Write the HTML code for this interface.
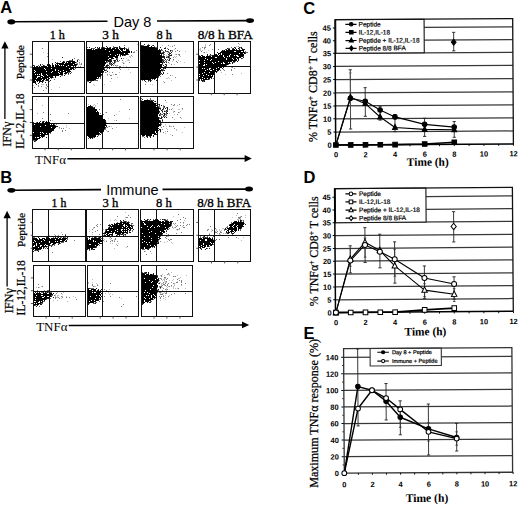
<!DOCTYPE html>
<html><head><meta charset="utf-8"><style>
html,body{margin:0;padding:0;background:#fff;overflow:hidden;width:520px;height:506px;}
svg{display:block;}
</style></head><body>
<svg width="520" height="506" viewBox="0 0 520 506">
<rect width="520" height="506" fill="#fff"/>
<rect x="32.5" y="41.5" width="52.0" height="52.0" fill="none" stroke="#111" stroke-width="1.0"/>
<line x1="48.5" y1="41.5" x2="48.5" y2="93.5" stroke="#111" stroke-width="1"/>
<line x1="32.5" y1="67.5" x2="84.5" y2="67.5" stroke="#111" stroke-width="1"/>
<path d="M29.8 54.2H32.0M29.8 67.1H32.0M29.8 80.0H32.0" stroke="#444" stroke-width="0.9" fill="none"/>
<rect x="86.5" y="41.5" width="52.0" height="52.0" fill="none" stroke="#111" stroke-width="1.0"/>
<line x1="102.5" y1="41.5" x2="102.5" y2="93.5" stroke="#111" stroke-width="1"/>
<line x1="86.5" y1="67.5" x2="138.5" y2="67.5" stroke="#111" stroke-width="1"/>
<path d="" stroke="#444" stroke-width="0.9" fill="none"/>
<rect x="140.5" y="41.5" width="53.0" height="52.0" fill="none" stroke="#111" stroke-width="1.0"/>
<line x1="157.5" y1="41.5" x2="157.5" y2="93.5" stroke="#111" stroke-width="1"/>
<line x1="140.5" y1="67.5" x2="193.5" y2="67.5" stroke="#111" stroke-width="1"/>
<path d="" stroke="#444" stroke-width="0.9" fill="none"/>
<rect x="198.5" y="41.5" width="52.0" height="52.0" fill="none" stroke="#111" stroke-width="1.0"/>
<line x1="214.5" y1="41.5" x2="214.5" y2="93.5" stroke="#111" stroke-width="1"/>
<line x1="198.5" y1="66.5" x2="250.5" y2="66.5" stroke="#111" stroke-width="1"/>
<path d="M196.2 54.2H198.4M196.2 67.1H198.4M196.2 80.0H198.4M211.3 93.0V95.2M224.2 93.0V95.2M237.1 93.0V95.2" stroke="#444" stroke-width="0.9" fill="none"/>
<rect x="32.5" y="96.5" width="52.0" height="52.0" fill="none" stroke="#111" stroke-width="1.0"/>
<line x1="48.5" y1="96.5" x2="48.5" y2="148.5" stroke="#111" stroke-width="1"/>
<line x1="32.5" y1="123.5" x2="84.5" y2="123.5" stroke="#111" stroke-width="1"/>
<path d="M29.8 109.6H32.0M29.8 122.5H32.0M29.8 135.3H32.0M45.1 148.2V150.4M58.2 148.2V150.4M71.3 148.2V150.4" stroke="#444" stroke-width="0.9" fill="none"/>
<rect x="86.5" y="96.5" width="52.0" height="52.0" fill="none" stroke="#111" stroke-width="1.0"/>
<line x1="102.5" y1="96.5" x2="102.5" y2="148.5" stroke="#111" stroke-width="1"/>
<line x1="86.5" y1="123.5" x2="138.5" y2="123.5" stroke="#111" stroke-width="1"/>
<path d="M99.7 148.2V150.4M112.6 148.2V150.4M125.5 148.2V150.4" stroke="#444" stroke-width="0.9" fill="none"/>
<rect x="140.5" y="96.5" width="53.0" height="52.0" fill="none" stroke="#111" stroke-width="1.0"/>
<line x1="157.5" y1="96.5" x2="157.5" y2="148.5" stroke="#111" stroke-width="1"/>
<line x1="140.5" y1="122.5" x2="193.5" y2="122.5" stroke="#111" stroke-width="1"/>
<path d="M154.0 148.2V150.4M167.1 148.2V150.4M180.2 148.2V150.4" stroke="#444" stroke-width="0.9" fill="none"/>
<rect x="32.5" y="209.5" width="53.0" height="52.0" fill="none" stroke="#111" stroke-width="1.0"/>
<line x1="48.5" y1="209.5" x2="48.5" y2="261.5" stroke="#111" stroke-width="1"/>
<line x1="32.5" y1="236.5" x2="85.5" y2="236.5" stroke="#111" stroke-width="1"/>
<path d="M30.7 222.4H32.9M30.7 235.3H32.9M30.7 248.3H32.9" stroke="#444" stroke-width="0.9" fill="none"/>
<rect x="86.5" y="209.5" width="52.0" height="52.0" fill="none" stroke="#111" stroke-width="1.0"/>
<line x1="102.5" y1="209.5" x2="102.5" y2="261.5" stroke="#111" stroke-width="1"/>
<line x1="86.5" y1="236.5" x2="138.5" y2="236.5" stroke="#111" stroke-width="1"/>
<path d="" stroke="#444" stroke-width="0.9" fill="none"/>
<rect x="140.5" y="209.5" width="53.0" height="52.0" fill="none" stroke="#111" stroke-width="1.0"/>
<line x1="156.5" y1="209.5" x2="156.5" y2="261.5" stroke="#111" stroke-width="1"/>
<line x1="140.5" y1="235.5" x2="193.5" y2="235.5" stroke="#111" stroke-width="1"/>
<path d="" stroke="#444" stroke-width="0.9" fill="none"/>
<rect x="198.5" y="209.5" width="52.0" height="52.0" fill="none" stroke="#111" stroke-width="1.0"/>
<line x1="214.5" y1="209.5" x2="214.5" y2="261.5" stroke="#111" stroke-width="1"/>
<line x1="198.5" y1="235.5" x2="250.5" y2="235.5" stroke="#111" stroke-width="1"/>
<path d="M196.2 222.4H198.4M196.2 235.3H198.4M196.2 248.3H198.4M211.5 261.2V263.4M224.7 261.2V263.4M237.8 261.2V263.4" stroke="#444" stroke-width="0.9" fill="none"/>
<rect x="33.5" y="265.5" width="52.0" height="51.0" fill="none" stroke="#111" stroke-width="1.0"/>
<line x1="49.5" y1="265.5" x2="49.5" y2="316.5" stroke="#111" stroke-width="1"/>
<line x1="33.5" y1="291.5" x2="85.5" y2="291.5" stroke="#111" stroke-width="1"/>
<path d="M30.9 277.9H33.1M30.9 290.7H33.1M30.9 303.5H33.1M46.1 316.4V318.6M59.2 316.4V318.6M72.2 316.4V318.6" stroke="#444" stroke-width="0.9" fill="none"/>
<rect x="87.5" y="265.5" width="51.0" height="51.0" fill="none" stroke="#111" stroke-width="1.0"/>
<line x1="102.5" y1="265.5" x2="102.5" y2="316.5" stroke="#111" stroke-width="1"/>
<line x1="87.5" y1="291.5" x2="138.5" y2="291.5" stroke="#111" stroke-width="1"/>
<path d="M100.2 316.4V318.6M113.1 316.4V318.6M126.0 316.4V318.6" stroke="#444" stroke-width="0.9" fill="none"/>
<rect x="141.5" y="265.5" width="51.0" height="51.0" fill="none" stroke="#111" stroke-width="1.0"/>
<line x1="156.5" y1="265.5" x2="156.5" y2="316.5" stroke="#111" stroke-width="1"/>
<line x1="141.5" y1="291.5" x2="192.5" y2="291.5" stroke="#111" stroke-width="1"/>
<path d="M154.0 316.4V318.6M166.9 316.4V318.6M179.9 316.4V318.6" stroke="#444" stroke-width="0.9" fill="none"/>
<path d="M43 52.5h1M47 53.5h1M52 59.5h1M77 59.5h1M79 60.5h1M76 63.5h1M79 63.5h1M79 64.5h2M78 66.5h1M41 84.5h3M33 85.5h1M45 87.5h2M59 87.5h1M51 89.5h1" stroke="#000" stroke-opacity="0.25" stroke-width="1" fill="none" shape-rendering="crispEdges"/>
<path d="M42 48.5h1M47 56.5h1M74 58.5h1M78 59.5h1M76 62.5h1M79 62.5h1M77 63.5h1M81 63.5h1M81 64.5h1M80 66.5h1M46 84.5h1M38 85.5h1M46 85.5h1M38 86.5h1M41 86.5h1M47 86.5h1M34 87.5h1M46 88.5h1M43 90.5h1" stroke="#000" stroke-opacity="0.5" stroke-width="1" fill="none" shape-rendering="crispEdges"/>
<path d="M69 60.5h3M60 61.5h1M64 61.5h1M66 61.5h1M57 62.5h1M42 64.5h1M77 64.5h1M34 65.5h1M38 65.5h1M44 65.5h1M76 65.5h1M77 67.5h1M75 68.5h1M74 69.5h1M68 72.5h2M71 72.5h1M65 74.5h1M68 74.5h1M61 75.5h2M53 77.5h1M51 78.5h1M54 79.5h1M45 80.5h1M43 81.5h1M49 81.5h1" stroke="#000" stroke-opacity="0.6" stroke-width="1" fill="none" shape-rendering="crispEdges"/>
<path d="M62 57.5h1M72 59.5h1M72 60.5h1M77 60.5h1M63 61.5h1M77 61.5h1M55 62.5h1M52 63.5h1M56 63.5h1M40 64.5h1M47 64.5h1M49 64.5h1M52 64.5h1M33 65.5h1M40 65.5h1M43 65.5h1M76 67.5h1M79 67.5h1M73 69.5h1M66 73.5h1M68 73.5h1M70 73.5h1M64 75.5h1M60 76.5h1M55 77.5h1M49 78.5h1M47 79.5h2M46 80.5h2M50 80.5h1M42 81.5h1M39 82.5h1M42 82.5h1M45 82.5h1M35 83.5h1M38 83.5h1M36 84.5h1" stroke="#000" stroke-opacity="0.9" stroke-width="1" fill="none" shape-rendering="crispEdges"/>
<path d="M67 61.5h8M62 62.5h3M66 62.5h1M68 62.5h3M72 62.5h4M57 63.5h7M65 63.5h10M55 64.5h1M57 64.5h1M59 64.5h14M74 64.5h3M47 65.5h4M52 65.5h2M55 65.5h4M60 65.5h1M62 65.5h1M64 65.5h4M69 65.5h7M34 66.5h1M36 66.5h2M39 66.5h1M41 66.5h6M48 66.5h3M52 66.5h2M55 66.5h11M67 66.5h4M73 66.5h1M75 66.5h1M33 67.5h3M37 67.5h4M44 67.5h30M33 68.5h11M45 68.5h6M52 68.5h17M70 68.5h4M33 69.5h12M46 69.5h2M49 69.5h6M56 69.5h16M33 70.5h1M35 70.5h20M56 70.5h2M59 70.5h4M64 70.5h6M33 71.5h2M36 71.5h10M47 71.5h5M53 71.5h7M61 71.5h5M67 71.5h4M33 72.5h1M35 72.5h16M52 72.5h6M59 72.5h4M65 72.5h3M33 73.5h8M42 73.5h17M60 73.5h3M64 73.5h2M33 74.5h2M36 74.5h1M38 74.5h1M40 74.5h1M42 74.5h4M47 74.5h16M33 75.5h8M43 75.5h4M48 75.5h11M33 76.5h4M40 76.5h3M44 76.5h9M55 76.5h1M33 77.5h4M38 77.5h3M42 77.5h7M50 77.5h3M33 78.5h3M37 78.5h10M48 78.5h1M33 79.5h9M43 79.5h2M46 79.5h1M33 80.5h2M36 80.5h5M42 80.5h2M33 81.5h3M37 81.5h1M39 81.5h3M33 82.5h3" stroke="#000" stroke-opacity="1.0" stroke-width="1" fill="none" shape-rendering="crispEdges"/>
<path d="M137 44.5h1M128 47.5h1M129 50.5h1M134 51.5h1M129 56.5h2M132 56.5h1M130 57.5h1M126 58.5h1M128 59.5h1M127 60.5h3M116 61.5h1M125 61.5h1M122 62.5h2M124 63.5h1M114 64.5h1M116 65.5h1M123 65.5h1M116 66.5h1M126 66.5h1M128 69.5h1M106 72.5h1M109 72.5h1M119 72.5h1M130 72.5h1M109 74.5h1M113 74.5h1M107 75.5h1M117 77.5h1M110 81.5h1M93 84.5h1M104 84.5h1M94 85.5h1" stroke="#000" stroke-opacity="0.25" stroke-width="1" fill="none" shape-rendering="crispEdges"/>
<path d="M136 50.5h1M133 52.5h2M131 55.5h1M123 58.5h1M122 60.5h1M118 61.5h1M115 62.5h1M129 62.5h1M114 63.5h1M123 63.5h1M115 65.5h1M117 65.5h1M119 66.5h2M115 67.5h1M119 68.5h1M106 69.5h1M120 69.5h1M112 72.5h1M107 74.5h1M115 74.5h2M110 75.5h2M111 78.5h1" stroke="#000" stroke-opacity="0.5" stroke-width="1" fill="none" shape-rendering="crispEdges"/>
<path d="M124 45.5h1M113 46.5h1M87 47.5h1M101 47.5h1M104 47.5h1M109 47.5h1M113 47.5h1M120 47.5h1M92 48.5h3M97 48.5h1M125 48.5h2M128 48.5h1M128 54.5h1M123 55.5h1M125 55.5h1M120 56.5h1M116 58.5h2M111 59.5h1M117 59.5h1M113 60.5h1M119 60.5h1M107 61.5h1M115 61.5h1M117 61.5h1M106 62.5h2M109 62.5h1M112 62.5h1M110 63.5h1M107 64.5h1M109 64.5h3M113 65.5h1M105 66.5h1M107 66.5h1M109 66.5h1M104 67.5h1M106 67.5h1M104 68.5h1M107 68.5h1M106 70.5h1M103 72.5h1M105 72.5h1M101 75.5h1M100 77.5h1M98 78.5h1M100 78.5h1M94 80.5h4M87 81.5h2M90 81.5h2" stroke="#000" stroke-opacity="0.6" stroke-width="1" fill="none" shape-rendering="crispEdges"/>
<path d="M106 46.5h1M119 46.5h1M89 47.5h1M95 47.5h1M97 47.5h1M99 47.5h1M103 47.5h1M107 47.5h1M110 47.5h1M114 47.5h4M119 47.5h1M124 47.5h1M91 48.5h1M98 48.5h2M101 48.5h1M106 48.5h1M124 48.5h1M127 49.5h2M131 51.5h1M131 52.5h1M127 54.5h1M124 55.5h1M121 58.5h1M116 59.5h1M109 60.5h3M114 60.5h2M117 60.5h1M108 61.5h4M114 61.5h1M110 62.5h1M114 62.5h1M109 63.5h1M111 63.5h1M113 63.5h1M112 64.5h1M106 65.5h3M111 65.5h1M106 66.5h1M107 67.5h2M109 68.5h1M104 69.5h1M104 70.5h2M107 71.5h1M102 73.5h1M100 76.5h1M89 82.5h2" stroke="#000" stroke-opacity="0.9" stroke-width="1" fill="none" shape-rendering="crispEdges"/>
<path d="M102 48.5h4M107 48.5h4M112 48.5h3M116 48.5h2M119 48.5h5M87 49.5h5M93 49.5h1M95 49.5h10M106 49.5h13M120 49.5h3M124 49.5h1M126 49.5h1M87 50.5h26M114 50.5h6M121 50.5h2M126 50.5h3M87 51.5h22M110 51.5h11M122 51.5h8M87 52.5h43M87 53.5h37M125 53.5h3M87 54.5h23M111 54.5h6M118 54.5h1M120 54.5h7M87 55.5h28M116 55.5h3M120 55.5h1M122 55.5h1M87 56.5h21M109 56.5h9M87 57.5h26M115 57.5h3M87 58.5h22M111 58.5h3M87 59.5h21M109 59.5h2M87 60.5h22M87 61.5h18M106 61.5h1M87 62.5h19M87 63.5h19M87 64.5h18M87 65.5h18M87 66.5h17M87 67.5h17M87 68.5h17M87 69.5h17M87 70.5h16M87 71.5h17M87 72.5h16M87 73.5h14M87 74.5h15M87 75.5h14M87 76.5h13M87 77.5h10M98 77.5h1M87 78.5h11M87 79.5h9M87 80.5h7" stroke="#000" stroke-opacity="1.0" stroke-width="1" fill="none" shape-rendering="crispEdges"/>
<path d="M162 45.5h1M170 46.5h1M174 49.5h1M185 51.5h1M161 52.5h1M167 53.5h1M175 54.5h1M166 55.5h1M168 55.5h1M166 56.5h1M174 56.5h1M176 56.5h1M180 56.5h1M175 57.5h1M168 58.5h1M173 60.5h1M178 60.5h1M172 61.5h1M180 61.5h1M184 62.5h1M169 63.5h1M174 64.5h1M172 75.5h1M168 77.5h1M166 78.5h2M169 78.5h1M171 80.5h1M163 81.5h1M146 82.5h1M150 84.5h1M152 84.5h1" stroke="#000" stroke-opacity="0.25" stroke-width="1" fill="none" shape-rendering="crispEdges"/>
<path d="M168 45.5h1M174 45.5h1M172 46.5h1M165 47.5h1M167 48.5h1M175 48.5h1M171 50.5h2M177 50.5h1M168 51.5h1M172 51.5h1M175 51.5h1M179 51.5h1M169 52.5h1M163 54.5h2M176 54.5h1M178 54.5h2M179 55.5h1M167 56.5h1M173 57.5h1M166 61.5h1M176 61.5h1M177 62.5h1M171 64.5h1M162 71.5h1M167 73.5h1M170 75.5h1M160 76.5h1M175 77.5h1M164 82.5h1M145 84.5h1" stroke="#000" stroke-opacity="0.5" stroke-width="1" fill="none" shape-rendering="crispEdges"/>
<path d="M148 44.5h1M142 45.5h2M152 45.5h1M154 46.5h1M157 46.5h1M155 47.5h2M161 50.5h2M163 51.5h1M165 51.5h2M170 51.5h1M162 52.5h1M164 52.5h1M168 52.5h1M169 54.5h1M171 54.5h1M163 55.5h1M169 56.5h1M167 57.5h1M169 57.5h1M169 58.5h1M163 59.5h1M167 59.5h1M173 59.5h1M163 60.5h2M166 60.5h1M168 60.5h1M162 61.5h1M165 61.5h1M163 62.5h1M168 62.5h1M162 64.5h1M166 64.5h1M164 66.5h1M166 66.5h1M163 67.5h3M164 68.5h1M162 69.5h2M163 70.5h1M160 73.5h1M158 77.5h1M152 79.5h1M142 80.5h1M149 80.5h1M151 80.5h1M148 81.5h1" stroke="#000" stroke-opacity="0.6" stroke-width="1" fill="none" shape-rendering="crispEdges"/>
<path d="M144 44.5h1M141 45.5h1M147 45.5h3M153 45.5h1M160 47.5h1M164 48.5h2M159 49.5h1M161 49.5h1M168 49.5h1M160 50.5h1M165 50.5h1M170 50.5h1M167 51.5h1M163 52.5h1M171 52.5h1M161 53.5h3M169 53.5h2M168 54.5h1M169 55.5h3M162 56.5h3M168 56.5h1M162 57.5h3M166 57.5h1M168 57.5h1M164 58.5h1M170 58.5h1M162 59.5h1M165 59.5h1M169 59.5h1M162 60.5h1M169 60.5h1M163 61.5h1M162 62.5h1M164 62.5h1M166 62.5h1M162 63.5h1M165 64.5h1M163 65.5h1M166 65.5h1M165 66.5h1M162 67.5h1M163 68.5h1M165 68.5h1M161 70.5h2M164 70.5h1M163 72.5h1M161 73.5h1M163 73.5h1M160 74.5h1M162 74.5h1M159 75.5h1M158 76.5h1M157 77.5h1M154 79.5h1M144 80.5h1M148 80.5h1M150 80.5h1M156 80.5h1M145 81.5h1M150 81.5h1" stroke="#000" stroke-opacity="0.9" stroke-width="1" fill="none" shape-rendering="crispEdges"/>
<path d="M141 46.5h8M151 46.5h1M141 47.5h14M141 48.5h17M141 49.5h16M141 50.5h19M141 51.5h20M141 52.5h20M141 53.5h20M141 54.5h19M161 54.5h1M141 55.5h21M141 56.5h21M141 57.5h21M141 58.5h21M141 59.5h21M141 60.5h21M141 61.5h21M141 62.5h21M141 63.5h19M141 64.5h21M141 65.5h21M141 66.5h21M141 67.5h21M141 68.5h20M141 69.5h19M161 69.5h1M141 70.5h20M141 71.5h20M141 72.5h20M141 73.5h19M141 74.5h19M141 75.5h16M158 75.5h1M141 76.5h16M141 77.5h16M141 78.5h15M141 79.5h10" stroke="#000" stroke-opacity="1.0" stroke-width="1" fill="none" shape-rendering="crispEdges"/>
<path d="M205 44.5h1M239 44.5h1M205 45.5h1M205 46.5h1M236 46.5h1M200 48.5h1M199 49.5h2M204 49.5h1M200 50.5h1M202 50.5h1M208 50.5h1M203 52.5h1M206 52.5h1M231 67.5h1M221 72.5h1M241 73.5h1M225 74.5h1" stroke="#000" stroke-opacity="0.25" stroke-width="1" fill="none" shape-rendering="crispEdges"/>
<path d="M238 43.5h1M210 44.5h1M209 45.5h1M238 46.5h1M202 47.5h1M204 47.5h2M204 48.5h1M212 49.5h1M201 51.5h1M204 52.5h1M240 66.5h1M232 67.5h1M234 68.5h1M231 69.5h1M224 70.5h1M231 70.5h1M232 74.5h1" stroke="#000" stroke-opacity="0.5" stroke-width="1" fill="none" shape-rendering="crispEdges"/>
<path d="M231 47.5h1M235 47.5h1M240 47.5h1M228 48.5h2M232 48.5h1M239 48.5h1M242 48.5h1M218 49.5h1M225 49.5h1M223 50.5h1M245 51.5h1M245 52.5h3M199 55.5h1M209 55.5h3M243 56.5h1M242 58.5h1M235 61.5h1M233 62.5h2M230 63.5h1M228 64.5h1M226 65.5h1M224 66.5h1M223 69.5h1M220 70.5h1M217 71.5h1M213 78.5h1M209 79.5h1M203 81.5h1" stroke="#000" stroke-opacity="0.6" stroke-width="1" fill="none" shape-rendering="crispEdges"/>
<path d="M234 47.5h1M239 47.5h1M241 47.5h1M227 48.5h1M233 48.5h1M241 48.5h1M226 49.5h1M243 49.5h2M222 50.5h1M221 51.5h1M217 52.5h1M245 53.5h1M207 54.5h1M210 54.5h1M214 54.5h2M201 55.5h2M207 55.5h1M212 55.5h2M243 57.5h1M241 58.5h1M238 60.5h1M237 61.5h1M232 63.5h1M225 66.5h1M223 67.5h1M222 68.5h1M218 70.5h1M216 72.5h1M214 74.5h1M211 78.5h1M207 79.5h2M199 80.5h1M201 80.5h4M202 81.5h1M204 81.5h1" stroke="#000" stroke-opacity="0.9" stroke-width="1" fill="none" shape-rendering="crispEdges"/>
<path d="M235 48.5h1M238 48.5h1M228 49.5h2M232 49.5h3M236 49.5h1M239 49.5h1M242 49.5h1M224 50.5h1M226 50.5h18M222 51.5h12M236 51.5h5M243 51.5h1M220 52.5h25M218 53.5h3M222 53.5h17M240 53.5h3M244 53.5h1M216 54.5h1M218 54.5h1M220 54.5h1M222 54.5h8M231 54.5h13M214 55.5h4M219 55.5h4M224 55.5h5M230 55.5h4M235 55.5h1M238 55.5h6M199 56.5h2M202 56.5h3M206 56.5h5M212 56.5h2M215 56.5h8M224 56.5h3M228 56.5h1M230 56.5h7M239 56.5h4M199 57.5h16M217 57.5h7M225 57.5h16M199 58.5h6M206 58.5h20M227 58.5h5M233 58.5h3M237 58.5h2M199 59.5h8M208 59.5h3M212 59.5h14M227 59.5h6M234 59.5h3M238 59.5h1M200 60.5h4M205 60.5h5M211 60.5h26M199 61.5h19M219 61.5h13M233 61.5h2M199 62.5h5M205 62.5h7M213 62.5h2M216 62.5h7M224 62.5h4M229 62.5h1M232 62.5h1M200 63.5h13M214 63.5h7M222 63.5h1M225 63.5h5M199 64.5h5M205 64.5h1M207 64.5h21M199 65.5h4M205 65.5h21M199 66.5h11M211 66.5h13M199 67.5h19M219 67.5h3M199 68.5h3M203 68.5h1M205 68.5h4M211 68.5h5M217 68.5h3M199 69.5h8M208 69.5h1M210 69.5h3M214 69.5h6M199 70.5h6M206 70.5h4M212 70.5h2M215 70.5h1M217 70.5h1M199 71.5h18M199 72.5h5M205 72.5h4M210 72.5h5M199 73.5h3M203 73.5h11M200 74.5h6M207 74.5h7M199 75.5h4M204 75.5h4M209 75.5h2M212 75.5h1M200 76.5h13M199 77.5h3M203 77.5h9M199 78.5h5M205 78.5h2M208 78.5h2M199 79.5h1M201 79.5h1M203 79.5h4" stroke="#000" stroke-opacity="1.0" stroke-width="1" fill="none" shape-rendering="crispEdges"/>
<path d="M36 99.5h1M42 105.5h1M37 113.5h1M52 120.5h1M66 125.5h1M66 127.5h1M59 128.5h1M69 128.5h1" stroke="#000" stroke-opacity="0.25" stroke-width="1" fill="none" shape-rendering="crispEdges"/>
<path d="M43 112.5h1M48 113.5h1M68 113.5h1M48 114.5h1M50 114.5h1M42 118.5h1M73 123.5h1M56 124.5h1M59 127.5h1M61 128.5h1M63 128.5h1M62 130.5h1M65 130.5h1M62 131.5h1" stroke="#000" stroke-opacity="0.5" stroke-width="1" fill="none" shape-rendering="crispEdges"/>
<path d="M50 120.5h1M42 121.5h1M44 121.5h1M36 122.5h1M52 123.5h1M54 124.5h1M55 125.5h1M50 133.5h1M44 136.5h1M33 140.5h2M35 141.5h1" stroke="#000" stroke-opacity="0.6" stroke-width="1" fill="none" shape-rendering="crispEdges"/>
<path d="M40 121.5h1M43 121.5h1M46 121.5h1M48 121.5h1M33 122.5h1M54 123.5h1M56 126.5h2M55 127.5h1M53 130.5h1M50 132.5h1M47 134.5h1M42 137.5h1M46 137.5h1M35 140.5h2M34 141.5h1" stroke="#000" stroke-opacity="0.9" stroke-width="1" fill="none" shape-rendering="crispEdges"/>
<path d="M37 122.5h1M39 122.5h1M42 122.5h2M45 122.5h5M34 123.5h7M42 123.5h9M33 124.5h1M35 124.5h15M51 124.5h1M53 124.5h1M33 125.5h12M46 125.5h9M33 126.5h7M41 126.5h15M33 127.5h18M52 127.5h3M33 128.5h22M33 129.5h21M33 130.5h20M33 131.5h19M34 132.5h6M41 132.5h1M43 132.5h7M33 133.5h10M44 133.5h2M47 133.5h2M33 134.5h7M41 134.5h6M33 135.5h12M33 136.5h7M41 136.5h3M33 137.5h2M36 137.5h1M39 137.5h2M33 138.5h7M33 139.5h5" stroke="#000" stroke-opacity="1.0" stroke-width="1" fill="none" shape-rendering="crispEdges"/>
<path d="M97 103.5h1M88 104.5h1M94 104.5h1M93 105.5h1M95 105.5h1M95 106.5h1M119 111.5h1M105 112.5h1M116 114.5h1M108 118.5h1M129 118.5h1M114 120.5h1M106 122.5h1M108 126.5h1M111 126.5h1M106 127.5h1M116 127.5h1M106 130.5h1M107 131.5h1" stroke="#000" stroke-opacity="0.25" stroke-width="1" fill="none" shape-rendering="crispEdges"/>
<path d="M120 99.5h1M129 109.5h1M106 112.5h1M114 115.5h1M116 120.5h1M109 126.5h1M107 127.5h1M112 128.5h1M105 129.5h1M108 131.5h1" stroke="#000" stroke-opacity="0.5" stroke-width="1" fill="none" shape-rendering="crispEdges"/>
<path d="M92 106.5h1M93 107.5h1M99 109.5h1M100 113.5h1M103 114.5h1M105 128.5h1M104 129.5h1M101 133.5h1M99 134.5h1M98 135.5h1M93 137.5h1M88 138.5h1" stroke="#000" stroke-opacity="0.6" stroke-width="1" fill="none" shape-rendering="crispEdges"/>
<path d="M90 105.5h1M91 106.5h1M94 107.5h1M96 109.5h1M102 115.5h1M105 120.5h1M105 121.5h1M106 123.5h2M106 125.5h1M106 126.5h1M105 127.5h1M103 131.5h1M100 134.5h1M97 136.5h1M92 137.5h1M94 137.5h1M90 138.5h1M92 138.5h1" stroke="#000" stroke-opacity="0.9" stroke-width="1" fill="none" shape-rendering="crispEdges"/>
<path d="M88 106.5h3M87 107.5h6M87 108.5h8M87 109.5h9M87 110.5h10M87 111.5h9M97 111.5h1M87 112.5h12M87 113.5h12M87 114.5h12M87 115.5h15M87 116.5h16M87 117.5h15M87 118.5h16M87 119.5h18M87 120.5h18M87 121.5h18M87 122.5h19M87 123.5h19M87 124.5h19M87 125.5h19M87 126.5h18M87 127.5h18M87 128.5h18M87 129.5h17M87 130.5h17M87 131.5h16M87 132.5h12M100 132.5h2M87 133.5h13M87 134.5h12M87 135.5h9M88 136.5h8M89 137.5h3" stroke="#000" stroke-opacity="1.0" stroke-width="1" fill="none" shape-rendering="crispEdges"/>
<path d="M166 102.5h1M174 105.5h1M177 105.5h1M160 107.5h1M172 108.5h1M178 109.5h2M182 109.5h1M164 110.5h1M173 111.5h1M180 111.5h1M173 112.5h1M179 112.5h1M165 113.5h1M169 113.5h1M174 114.5h1M164 116.5h1M181 118.5h1M174 119.5h1M168 122.5h1M161 123.5h1M165 124.5h1M169 125.5h1M160 126.5h1M166 126.5h1M170 126.5h2M184 127.5h1M166 128.5h1M167 129.5h1M176 129.5h1M176 130.5h1M165 131.5h1M160 132.5h1M182 132.5h1M165 133.5h1M170 134.5h1" stroke="#000" stroke-opacity="0.25" stroke-width="1" fill="none" shape-rendering="crispEdges"/>
<path d="M165 100.5h1M171 104.5h1M174 104.5h1M179 104.5h1M163 105.5h1M173 105.5h1M163 106.5h1M182 108.5h1M169 109.5h1M171 109.5h1M162 110.5h1M174 111.5h1M162 112.5h1M178 112.5h1M177 114.5h1M172 117.5h1M180 117.5h1M166 122.5h1M169 122.5h1M163 126.5h1M169 126.5h1M173 126.5h1M161 127.5h1M174 128.5h1M162 129.5h1M167 131.5h1M163 132.5h1M172 135.5h1" stroke="#000" stroke-opacity="0.5" stroke-width="1" fill="none" shape-rendering="crispEdges"/>
<path d="M141 98.5h1M150 98.5h1M147 99.5h1M150 99.5h1M141 100.5h1M150 100.5h1M152 100.5h1M154 101.5h1M156 103.5h1M158 104.5h1M159 105.5h1M158 106.5h2M159 107.5h1M163 107.5h2M166 107.5h1M160 109.5h1M163 109.5h1M167 110.5h1M165 111.5h2M159 112.5h1M163 113.5h1M166 113.5h1M159 114.5h4M165 114.5h2M160 115.5h1M163 115.5h1M166 115.5h1M161 116.5h1M165 116.5h1M159 117.5h1M162 117.5h1M159 118.5h1M162 119.5h1M160 120.5h1M162 121.5h1M161 124.5h1M142 136.5h2M149 136.5h1M144 137.5h1" stroke="#000" stroke-opacity="0.6" stroke-width="1" fill="none" shape-rendering="crispEdges"/>
<path d="M142 99.5h1M151 100.5h1M153 100.5h1M155 101.5h1M159 104.5h1M161 105.5h1M164 106.5h1M158 107.5h1M167 107.5h1M159 108.5h2M163 108.5h1M165 108.5h1M167 108.5h1M162 109.5h1M167 109.5h1M161 110.5h1M166 110.5h1M159 111.5h1M162 111.5h1M164 111.5h1M167 111.5h1M166 112.5h1M160 113.5h1M164 113.5h1M167 113.5h1M164 114.5h1M159 115.5h1M164 115.5h1M163 116.5h1M161 117.5h1M164 117.5h1M166 117.5h1M160 118.5h2M162 120.5h1M160 121.5h1M161 122.5h1M160 123.5h1M160 124.5h1M160 125.5h1M159 129.5h2M158 130.5h1M160 130.5h1M160 131.5h1M155 134.5h2M153 135.5h1M146 136.5h2M150 136.5h1M153 136.5h1M147 137.5h1M150 137.5h1" stroke="#000" stroke-opacity="0.9" stroke-width="1" fill="none" shape-rendering="crispEdges"/>
<path d="M144 100.5h6M141 101.5h12M141 102.5h13M141 103.5h15M141 104.5h15M157 104.5h1M141 105.5h17M141 106.5h15M141 107.5h17M141 108.5h18M141 109.5h18M141 110.5h18M141 111.5h18M141 112.5h18M141 113.5h18M141 114.5h17M141 115.5h17M141 116.5h17M141 117.5h18M141 118.5h18M141 119.5h18M141 120.5h19M141 121.5h19M141 122.5h19M141 123.5h18M141 124.5h19M141 125.5h19M141 126.5h18M141 127.5h17M141 128.5h18M141 129.5h17M141 130.5h17M141 131.5h14M156 131.5h1M141 132.5h14M156 132.5h1M141 133.5h15M141 134.5h11M154 134.5h1M142 135.5h3M146 135.5h6" stroke="#000" stroke-opacity="1.0" stroke-width="1" fill="none" shape-rendering="crispEdges"/>
<path d="M61 232.5h1M54 234.5h1M49 235.5h1M42 250.5h1" stroke="#000" stroke-opacity="0.25" stroke-width="1" fill="none" shape-rendering="crispEdges"/>
<path d="M62 234.5h1M65 234.5h1M55 235.5h1M58 235.5h1M74 240.5h1M52 252.5h1" stroke="#000" stroke-opacity="0.5" stroke-width="1" fill="none" shape-rendering="crispEdges"/>
<path d="M33 237.5h2M48 237.5h1M53 237.5h1M57 237.5h1M60 237.5h2M64 237.5h2M67 238.5h1M67 239.5h1M61 242.5h3M58 243.5h1M60 243.5h1M54 244.5h1M50 245.5h3M54 245.5h1M47 246.5h1M44 247.5h1M46 247.5h1M45 248.5h1M34 250.5h1M36 250.5h1M38 250.5h1" stroke="#000" stroke-opacity="0.6" stroke-width="1" fill="none" shape-rendering="crispEdges"/>
<path d="M65 235.5h1M57 236.5h1M62 236.5h1M68 236.5h1M38 237.5h1M46 237.5h2M55 237.5h1M58 237.5h1M63 237.5h1M67 237.5h1M66 240.5h1M63 241.5h1M65 241.5h2M59 243.5h1M58 244.5h1M51 246.5h1M48 247.5h1M43 248.5h1M47 248.5h1M39 249.5h2M35 250.5h1M37 250.5h1M33 251.5h1M38 251.5h1" stroke="#000" stroke-opacity="0.9" stroke-width="1" fill="none" shape-rendering="crispEdges"/>
<path d="M33 238.5h4M39 238.5h1M42 238.5h3M46 238.5h4M51 238.5h7M59 238.5h2M62 238.5h5M33 239.5h5M39 239.5h4M44 239.5h4M49 239.5h6M56 239.5h10M33 240.5h1M35 240.5h9M45 240.5h15M62 240.5h3M33 241.5h2M36 241.5h5M42 241.5h6M50 241.5h5M56 241.5h1M58 241.5h5M34 242.5h14M50 242.5h10M33 243.5h3M37 243.5h2M40 243.5h11M53 243.5h3M33 244.5h3M37 244.5h8M46 244.5h4M52 244.5h2M33 245.5h1M35 245.5h1M37 245.5h3M42 245.5h2M45 245.5h1M49 245.5h1M35 246.5h5M41 246.5h6M33 247.5h5M39 247.5h3M43 247.5h1M33 248.5h9M33 249.5h1M35 249.5h4" stroke="#000" stroke-opacity="1.0" stroke-width="1" fill="none" shape-rendering="crispEdges"/>
<path d="M125 212.5h1M125 217.5h1M115 219.5h1M125 219.5h1M110 220.5h1M114 220.5h1M116 220.5h1M93 227.5h1M93 228.5h1M89 229.5h1M103 229.5h1M102 230.5h1M89 231.5h1M92 234.5h1M114 236.5h1M103 238.5h1M109 238.5h1M104 239.5h1M110 239.5h1M114 239.5h1M106 240.5h1M111 240.5h1M114 240.5h1M104 241.5h1M112 241.5h1M110 243.5h1M112 243.5h1M118 243.5h1M116 244.5h1M126 247.5h1M114 248.5h1" stroke="#000" stroke-opacity="0.25" stroke-width="1" fill="none" shape-rendering="crispEdges"/>
<path d="M128 215.5h1M117 216.5h1M126 217.5h2M130 217.5h1M123 221.5h1M128 221.5h1M126 222.5h1M97 224.5h1M100 224.5h1M131 224.5h1M96 225.5h1M97 226.5h1M94 227.5h1M92 229.5h1M97 230.5h1M95 231.5h1M132 231.5h1M92 232.5h1M99 234.5h1M110 237.5h1M100 238.5h1M111 238.5h1M115 238.5h1M115 239.5h1M103 240.5h1M112 240.5h1M106 241.5h1M110 241.5h1M114 241.5h1M117 241.5h1M117 245.5h1M127 246.5h1" stroke="#000" stroke-opacity="0.5" stroke-width="1" fill="none" shape-rendering="crispEdges"/>
<path d="M120 221.5h1M126 221.5h1M117 222.5h1M129 222.5h1M131 223.5h2M109 224.5h1M132 225.5h2M109 226.5h1M108 227.5h1M105 229.5h1M105 230.5h1M132 230.5h1M129 231.5h1M104 232.5h1M126 233.5h1M104 234.5h1M120 234.5h1M123 234.5h2M103 235.5h1M111 235.5h1M117 235.5h1M125 235.5h1M90 236.5h1M95 236.5h1M103 236.5h1M108 236.5h1M118 236.5h1M87 237.5h1M92 237.5h1M96 237.5h1M98 237.5h1M101 238.5h1M102 239.5h1M99 245.5h1M96 247.5h1M92 249.5h1M89 250.5h1" stroke="#000" stroke-opacity="0.6" stroke-width="1" fill="none" shape-rendering="crispEdges"/>
<path d="M120 220.5h1M123 220.5h1M121 221.5h1M124 221.5h2M128 222.5h1M114 223.5h1M111 224.5h2M108 225.5h3M131 225.5h1M132 226.5h1M132 227.5h1M132 228.5h1M106 229.5h1M133 229.5h1M130 230.5h1M105 231.5h1M127 232.5h1M129 232.5h2M103 233.5h2M127 233.5h1M121 234.5h2M125 234.5h1M104 235.5h1M112 235.5h1M116 235.5h1M119 235.5h1M123 235.5h1M106 236.5h1M89 237.5h1M94 237.5h2M99 237.5h2M100 243.5h2M96 246.5h1M95 247.5h1M87 249.5h1M89 249.5h1M91 249.5h1M93 249.5h2" stroke="#000" stroke-opacity="0.9" stroke-width="1" fill="none" shape-rendering="crispEdges"/>
<path d="M120 222.5h6M127 222.5h1M116 223.5h6M123 223.5h6M114 224.5h4M119 224.5h5M125 224.5h5M112 225.5h11M125 225.5h1M127 225.5h4M110 226.5h14M125 226.5h2M128 226.5h2M131 226.5h1M109 227.5h1M111 227.5h1M113 227.5h9M123 227.5h3M127 227.5h4M108 228.5h20M129 228.5h3M107 229.5h10M118 229.5h3M123 229.5h1M125 229.5h1M127 229.5h2M130 229.5h1M106 230.5h1M109 230.5h6M116 230.5h5M122 230.5h6M129 230.5h1M106 231.5h5M112 231.5h5M118 231.5h4M123 231.5h1M125 231.5h1M127 231.5h1M105 232.5h9M115 232.5h12M105 233.5h1M107 233.5h2M112 233.5h1M115 233.5h6M122 233.5h2M106 234.5h2M109 234.5h4M117 234.5h3M105 235.5h1M107 235.5h3M87 238.5h1M91 238.5h9M87 239.5h1M89 239.5h1M91 239.5h10M87 240.5h6M94 240.5h8M87 241.5h6M94 241.5h1M96 241.5h6M87 242.5h13M87 243.5h11M99 243.5h1M87 244.5h2M91 244.5h8M87 245.5h8M96 245.5h2M87 246.5h9M87 247.5h8M87 248.5h3M91 248.5h2" stroke="#000" stroke-opacity="1.0" stroke-width="1" fill="none" shape-rendering="crispEdges"/>
<path d="M173 216.5h1M184 220.5h1M169 223.5h1M183 223.5h1M174 224.5h1M175 225.5h1M172 226.5h1M182 226.5h1M174 227.5h1M173 228.5h1M176 229.5h1M178 229.5h2M177 230.5h1M167 236.5h2M167 241.5h1M164 242.5h1M171 242.5h1M172 243.5h1M145 251.5h1M151 253.5h1" stroke="#000" stroke-opacity="0.25" stroke-width="1" fill="none" shape-rendering="crispEdges"/>
<path d="M178 214.5h1M183 217.5h1M185 218.5h1M167 219.5h1M180 219.5h1M177 220.5h1M180 222.5h1M183 222.5h1M173 223.5h1M175 223.5h1M187 224.5h1M189 224.5h1M177 225.5h1M180 225.5h1M183 225.5h1M186 225.5h1M176 226.5h1M172 227.5h1M175 227.5h1M183 227.5h2M179 228.5h1M177 229.5h1M181 232.5h1M166 233.5h1M176 233.5h1M168 234.5h1M176 235.5h1M166 236.5h1M165 237.5h1M166 238.5h1M168 239.5h1M170 239.5h2M169 240.5h1M160 241.5h1M144 251.5h1M150 251.5h1M146 254.5h1" stroke="#000" stroke-opacity="0.5" stroke-width="1" fill="none" shape-rendering="crispEdges"/>
<path d="M148 219.5h1M153 219.5h1M160 219.5h1M163 219.5h1M165 219.5h1M149 220.5h1M164 220.5h1M167 220.5h1M171 224.5h1M171 225.5h1M170 226.5h1M169 228.5h1M168 229.5h1M166 230.5h1M162 234.5h1M160 236.5h1M159 239.5h1M158 240.5h1M158 241.5h1M157 242.5h1M152 247.5h1M149 248.5h1M142 249.5h3M147 249.5h1" stroke="#000" stroke-opacity="0.6" stroke-width="1" fill="none" shape-rendering="crispEdges"/>
<path d="M144 219.5h1M147 219.5h1M150 219.5h1M155 219.5h1M157 219.5h1M162 219.5h1M164 219.5h1M141 220.5h1M145 220.5h3M153 220.5h1M165 220.5h2M170 221.5h3M171 222.5h1M171 223.5h1M167 229.5h1M166 231.5h1M164 232.5h1M159 238.5h2M158 242.5h1M157 243.5h2M156 244.5h1M155 245.5h1M153 246.5h2M154 247.5h1M148 248.5h1M148 249.5h1" stroke="#000" stroke-opacity="0.9" stroke-width="1" fill="none" shape-rendering="crispEdges"/>
<path d="M154 220.5h5M141 221.5h15M157 221.5h4M162 221.5h2M165 221.5h4M141 222.5h2M144 222.5h27M141 223.5h3M145 223.5h16M162 223.5h7M170 223.5h1M141 224.5h3M146 224.5h18M165 224.5h6M141 225.5h11M153 225.5h5M159 225.5h12M141 226.5h6M148 226.5h3M152 226.5h5M158 226.5h1M160 226.5h10M142 227.5h8M151 227.5h3M155 227.5h10M166 227.5h3M141 228.5h27M141 229.5h7M149 229.5h17M141 230.5h23M141 231.5h10M152 231.5h8M161 231.5h4M141 232.5h8M150 232.5h12M163 232.5h1M141 233.5h1M143 233.5h12M156 233.5h7M141 234.5h21M141 235.5h1M143 235.5h4M148 235.5h13M141 236.5h3M145 236.5h4M150 236.5h8M159 236.5h1M141 237.5h19M141 238.5h10M152 238.5h6M141 239.5h1M143 239.5h16M141 240.5h10M152 240.5h6M141 241.5h3M145 241.5h13M141 242.5h1M143 242.5h3M147 242.5h2M150 242.5h7M141 243.5h16M141 244.5h6M148 244.5h8M141 245.5h9M151 245.5h3M141 246.5h12M141 247.5h3M145 247.5h6M141 248.5h3M145 248.5h3" stroke="#000" stroke-opacity="1.0" stroke-width="1" fill="none" shape-rendering="crispEdges"/>
<path d="M236 215.5h1M245 215.5h1M240 216.5h1M232 217.5h1M245 217.5h1M238 218.5h1M240 218.5h1M237 219.5h2M242 220.5h1M214 224.5h1M222 228.5h2M207 229.5h1M211 229.5h1M216 229.5h1M219 229.5h1M216 230.5h1M219 230.5h1M221 230.5h1M211 231.5h1M215 231.5h1M209 233.5h1M217 233.5h1M223 233.5h1M225 233.5h2M219 234.5h2M214 235.5h1M216 235.5h1M223 235.5h1M232 235.5h1M214 236.5h1M243 237.5h1M238 238.5h1M213 239.5h1M241 240.5h1" stroke="#000" stroke-opacity="0.25" stroke-width="1" fill="none" shape-rendering="crispEdges"/>
<path d="M237 213.5h1M241 216.5h1M238 217.5h3M239 218.5h1M240 219.5h1M210 226.5h1M215 228.5h1M208 229.5h1M207 230.5h1M212 230.5h1M224 230.5h1M217 231.5h1M220 231.5h1M215 232.5h2M220 232.5h2M219 233.5h1M218 235.5h1M220 235.5h1M222 235.5h1M225 235.5h1M228 235.5h1M212 237.5h1M228 237.5h1M236 237.5h1M219 239.5h1" stroke="#000" stroke-opacity="0.5" stroke-width="1" fill="none" shape-rendering="crispEdges"/>
<path d="M238 220.5h1M243 220.5h1M241 221.5h1M243 221.5h1M231 222.5h1M231 223.5h1M244 223.5h1M229 224.5h1M227 226.5h1M226 227.5h2M241 228.5h1M224 229.5h1M226 229.5h1M240 229.5h1M240 230.5h1M227 232.5h1M231 233.5h1M209 234.5h1M232 234.5h1M200 236.5h1M203 236.5h1M207 236.5h1M213 236.5h1M200 237.5h1M202 237.5h1M204 237.5h1M206 237.5h1M214 239.5h1M216 239.5h1M215 240.5h1M213 244.5h1M209 246.5h1M201 248.5h1M207 248.5h1" stroke="#000" stroke-opacity="0.6" stroke-width="1" fill="none" shape-rendering="crispEdges"/>
<path d="M240 220.5h2M234 221.5h1M245 224.5h1M243 226.5h1M225 228.5h1M225 229.5h1M238 230.5h1M226 231.5h1M226 232.5h1M234 232.5h1M227 233.5h2M232 233.5h2M204 235.5h1M204 236.5h1M203 237.5h1M205 237.5h1M207 237.5h1M209 237.5h1M214 238.5h1M214 241.5h1M212 244.5h1M210 245.5h2M214 245.5h1M208 246.5h1M200 248.5h1M206 248.5h1M209 248.5h1M201 249.5h1M205 249.5h1" stroke="#000" stroke-opacity="0.9" stroke-width="1" fill="none" shape-rendering="crispEdges"/>
<path d="M235 221.5h2M238 221.5h1M240 221.5h1M233 222.5h11M232 223.5h12M230 224.5h4M235 224.5h9M229 225.5h4M234 225.5h3M238 225.5h5M230 226.5h2M233 226.5h3M237 226.5h6M229 227.5h4M234 227.5h3M238 227.5h4M227 228.5h10M238 228.5h3M228 229.5h9M238 229.5h1M227 230.5h2M231 230.5h2M234 230.5h3M228 231.5h1M230 231.5h4M235 231.5h1M228 232.5h2M231 232.5h1M199 238.5h3M203 238.5h8M212 238.5h1M199 239.5h6M207 239.5h6M199 240.5h1M201 240.5h4M207 240.5h7M199 241.5h15M199 242.5h11M211 242.5h3M199 243.5h4M204 243.5h7M212 243.5h1M199 244.5h4M204 244.5h8M199 245.5h2M202 245.5h4M207 245.5h2M200 246.5h3M204 246.5h2M207 246.5h1M199 247.5h2M202 247.5h3" stroke="#000" stroke-opacity="1.0" stroke-width="1" fill="none" shape-rendering="crispEdges"/>
<path d="M41 286.5h1M36 287.5h1M39 287.5h1M57 292.5h1M63 292.5h1M55 294.5h1M62 294.5h1M55 295.5h1M57 295.5h2M55 296.5h1M57 296.5h1M62 296.5h1M66 296.5h1M73 296.5h1M56 297.5h2M75 297.5h1M61 298.5h1M53 300.5h1M57 300.5h1M67 301.5h1" stroke="#000" stroke-opacity="0.25" stroke-width="1" fill="none" shape-rendering="crispEdges"/>
<path d="M38 284.5h1M42 286.5h1M38 287.5h1M37 290.5h1M44 290.5h1M56 293.5h1M61 293.5h1M61 296.5h1M55 297.5h1M58 297.5h1M62 297.5h1M66 297.5h1M69 297.5h1M55 298.5h1M59 298.5h1M76 299.5h1" stroke="#000" stroke-opacity="0.5" stroke-width="1" fill="none" shape-rendering="crispEdges"/>
<path d="M47 290.5h2M42 291.5h1M46 291.5h1M41 292.5h2M46 292.5h1M48 292.5h1M50 292.5h2M51 295.5h2M54 295.5h1M50 298.5h1M46 299.5h1M43 301.5h2M41 303.5h2M35 305.5h1M39 306.5h1" stroke="#000" stroke-opacity="0.6" stroke-width="1" fill="none" shape-rendering="crispEdges"/>
<path d="M49 290.5h1M41 291.5h1M43 291.5h1M51 291.5h1M35 292.5h1M37 292.5h1M39 292.5h1M43 292.5h1M45 292.5h1M47 292.5h1M53 293.5h1M52 294.5h1M50 296.5h2M49 297.5h1M53 297.5h1M47 298.5h2M42 302.5h1M40 303.5h1M40 304.5h2M34 305.5h1M37 305.5h1M36 306.5h1" stroke="#000" stroke-opacity="0.9" stroke-width="1" fill="none" shape-rendering="crispEdges"/>
<path d="M34 293.5h1M36 293.5h5M43 293.5h4M49 293.5h3M34 294.5h18M34 295.5h2M37 295.5h4M43 295.5h8M34 296.5h10M45 296.5h2M49 296.5h1M34 297.5h1M36 297.5h6M44 297.5h5M34 298.5h13M34 299.5h1M36 299.5h10M34 300.5h9M44 300.5h1M36 301.5h3M40 301.5h1M42 301.5h1M34 302.5h4M40 302.5h2M35 303.5h1M37 303.5h3M34 304.5h5" stroke="#000" stroke-opacity="1.0" stroke-width="1" fill="none" shape-rendering="crispEdges"/>
<path d="M92 279.5h1M88 282.5h1M92 282.5h1M88 283.5h1M96 283.5h1M97 284.5h1M94 286.5h2M109 289.5h1M108 292.5h1M105 293.5h1M110 293.5h1M109 294.5h1M112 294.5h1M121 298.5h1" stroke="#000" stroke-opacity="0.25" stroke-width="1" fill="none" shape-rendering="crispEdges"/>
<path d="M110 283.5h1M92 284.5h1M92 285.5h1M97 285.5h1M93 286.5h1M104 289.5h1M106 290.5h1M110 291.5h2M104 296.5h1M110 296.5h1M136 296.5h1M119 297.5h1M103 301.5h1M123 304.5h1M121 306.5h1" stroke="#000" stroke-opacity="0.5" stroke-width="1" fill="none" shape-rendering="crispEdges"/>
<path d="M90 288.5h4M102 297.5h1M99 299.5h1M99 301.5h1M95 302.5h2M89 303.5h1M93 303.5h2" stroke="#000" stroke-opacity="0.6" stroke-width="1" fill="none" shape-rendering="crispEdges"/>
<path d="M88 288.5h2M96 288.5h1M98 289.5h1M101 289.5h1M100 290.5h1M101 291.5h1M102 292.5h1M100 298.5h1M100 299.5h1M98 300.5h1M88 303.5h1M95 303.5h1M88 304.5h1" stroke="#000" stroke-opacity="0.9" stroke-width="1" fill="none" shape-rendering="crispEdges"/>
<path d="M88 289.5h1M91 289.5h5M88 290.5h4M93 290.5h3M97 290.5h2M88 291.5h8M97 291.5h4M88 292.5h4M93 292.5h1M96 292.5h5M88 293.5h12M101 293.5h1M88 294.5h13M88 295.5h8M97 295.5h2M100 295.5h1M88 296.5h2M91 296.5h9M101 296.5h1M88 297.5h13M88 298.5h7M96 298.5h3M88 299.5h11M88 300.5h3M92 300.5h2M95 300.5h3M88 301.5h1M90 301.5h6M88 302.5h6" stroke="#000" stroke-opacity="1.0" stroke-width="1" fill="none" shape-rendering="crispEdges"/>
<path d="M156 272.5h1M171 272.5h1M162 274.5h1M168 274.5h2M160 275.5h1M164 275.5h1M169 275.5h1M177 275.5h1M186 275.5h1M174 276.5h1M180 277.5h1M159 278.5h1M161 278.5h1M164 278.5h2M178 278.5h2M163 279.5h2M173 279.5h1M162 280.5h1M164 280.5h1M169 280.5h1M172 280.5h1M164 281.5h2M177 281.5h1M159 282.5h2M165 282.5h2M161 283.5h3M174 283.5h1M161 284.5h1M174 284.5h1M161 285.5h1M164 285.5h1M174 285.5h1M181 285.5h1M166 286.5h1M168 286.5h1M171 286.5h1M173 286.5h1M159 287.5h1M161 287.5h2M167 287.5h1M173 287.5h1M166 288.5h1M173 288.5h1M175 288.5h1M177 288.5h1M185 288.5h1M156 289.5h2M166 289.5h1M166 290.5h1M162 291.5h1M169 291.5h1M161 292.5h1M164 292.5h1M160 293.5h1M162 293.5h2M163 295.5h1M165 295.5h1M169 295.5h1M165 297.5h1M163 298.5h1M165 299.5h1M160 300.5h1" stroke="#000" stroke-opacity="0.25" stroke-width="1" fill="none" shape-rendering="crispEdges"/>
<path d="M166 269.5h1M168 273.5h1M167 274.5h1M161 275.5h1M161 276.5h1M173 276.5h1M175 276.5h1M164 277.5h2M160 278.5h1M167 278.5h1M161 279.5h1M166 279.5h1M177 279.5h1M159 280.5h1M179 280.5h1M181 280.5h1M166 281.5h1M181 281.5h1M163 282.5h1M171 282.5h1M176 282.5h2M181 282.5h1M165 283.5h1M168 283.5h1M173 283.5h1M185 283.5h1M163 284.5h2M167 284.5h1M181 284.5h1M162 285.5h1M165 285.5h1M167 285.5h1M171 285.5h1M159 286.5h3M169 286.5h1M160 288.5h1M163 288.5h1M178 288.5h1M165 289.5h1M167 289.5h1M158 290.5h1M162 290.5h1M163 291.5h1M170 291.5h1M159 292.5h2M166 292.5h1M165 293.5h2M174 293.5h1M185 293.5h1M160 294.5h3M171 294.5h1M159 296.5h1M161 296.5h1M163 296.5h1M168 296.5h1M160 297.5h1M156 298.5h1M160 298.5h1" stroke="#000" stroke-opacity="0.5" stroke-width="1" fill="none" shape-rendering="crispEdges"/>
<path d="M142 272.5h1M144 272.5h1M146 273.5h1M152 274.5h1M157 275.5h1M156 276.5h1M157 277.5h1M158 281.5h1M158 283.5h1M157 287.5h1M157 292.5h1M156 293.5h1M156 296.5h1M153 299.5h1M150 301.5h2" stroke="#000" stroke-opacity="0.6" stroke-width="1" fill="none" shape-rendering="crispEdges"/>
<path d="M145 272.5h2M148 272.5h1M144 273.5h2M148 273.5h1M153 273.5h1M153 274.5h1M155 275.5h1M157 276.5h1M158 278.5h1M158 279.5h1M158 280.5h1M159 283.5h1M160 287.5h1M158 289.5h1M157 290.5h1M157 291.5h1M155 297.5h1M154 298.5h1M149 302.5h2M142 303.5h2M142 304.5h1" stroke="#000" stroke-opacity="0.9" stroke-width="1" fill="none" shape-rendering="crispEdges"/>
<path d="M142 273.5h2M142 274.5h3M146 274.5h3M150 274.5h2M142 275.5h13M142 276.5h14M142 277.5h15M142 278.5h2M145 278.5h12M142 279.5h13M156 279.5h2M142 280.5h7M150 280.5h8M142 281.5h10M153 281.5h5M142 282.5h3M146 282.5h5M152 282.5h6M142 283.5h15M142 284.5h15M142 285.5h11M154 285.5h4M142 286.5h16M142 287.5h10M153 287.5h4M142 288.5h15M142 289.5h8M151 289.5h5M142 290.5h3M146 290.5h11M142 291.5h3M146 291.5h7M154 291.5h3M142 292.5h2M145 292.5h2M148 292.5h9M142 293.5h7M150 293.5h6M142 294.5h11M154 294.5h2M142 295.5h4M147 295.5h1M149 295.5h2M152 295.5h2M155 295.5h1M142 296.5h9M152 296.5h3M142 297.5h2M145 297.5h6M152 297.5h3M142 298.5h3M146 298.5h3M150 298.5h3M142 299.5h11M142 300.5h2M145 300.5h6M142 301.5h2M145 301.5h4M142 302.5h3M147 302.5h1" stroke="#000" stroke-opacity="1.0" stroke-width="1" fill="none" shape-rendering="crispEdges"/>
<text x="0.3" y="12.8" font-family="'Liberation Sans', sans-serif" font-size="16.5" font-weight="bold" text-anchor="start" >A</text>
<ellipse cx="11.3" cy="21.8" rx="4" ry="2.6" fill="#000"/>
<line x1="12" y1="21.7" x2="107.5" y2="21.2" stroke="#000" stroke-width="1.6" />
<line x1="157" y1="21.0" x2="250" y2="20.6" stroke="#000" stroke-width="1.6" />
<ellipse cx="250" cy="20.6" rx="4" ry="2.4" fill="#000"/>
<text x="132.4" y="26.8" font-family="'Liberation Sans', sans-serif" font-size="14.5" font-weight="normal" text-anchor="middle" >Day 8</text>
<text x="57.3" y="38.5" font-family="'Liberation Serif', serif" font-size="11.8" font-weight="normal" text-anchor="middle" textLength="15.2" lengthAdjust="spacingAndGlyphs" stroke="#000" stroke-width="0.3">1 h</text>
<text x="110.5" y="38.5" font-family="'Liberation Serif', serif" font-size="11.8" font-weight="normal" text-anchor="middle" textLength="16.5" lengthAdjust="spacingAndGlyphs" stroke="#000" stroke-width="0.3">3 h</text>
<text x="164.3" y="38.5" font-family="'Liberation Serif', serif" font-size="11.8" font-weight="normal" text-anchor="middle" textLength="15.6" lengthAdjust="spacingAndGlyphs" stroke="#000" stroke-width="0.3">8 h</text>
<text x="225.3" y="38.5" font-family="'Liberation Serif', serif" font-size="11.8" font-weight="normal" text-anchor="middle" textLength="55.2" lengthAdjust="spacingAndGlyphs" stroke="#000" stroke-width="0.3">8/8 h BFA</text>
<line x1="4.9" y1="47" x2="4.9" y2="119" stroke="#000" stroke-width="1.3" />
<polygon points="4.9,41.2 1.3,48.6 8.6,48.6" fill="#000"/>
<text transform="translate(23.9,62.2) rotate(-90)" x="0" y="0" font-family="'Liberation Serif', serif" font-size="11.4" font-weight="normal" text-anchor="middle" stroke="#000" stroke-width="0.25">Peptide</text>
<text transform="translate(23.9,121.2) rotate(-90)" x="0" y="0" font-family="'Liberation Serif', serif" font-size="11.5" font-weight="normal" text-anchor="middle" stroke="#000" stroke-width="0.25">IL-12,IL-18</text>
<text transform="translate(11.0,134.2) rotate(-90)" x="0" y="0" font-family="'Liberation Serif', serif" font-size="12.3" font-weight="normal" text-anchor="middle" stroke="#000" stroke-width="0.25">IFN&#947;</text>
<text x="35.0" y="163.8" font-family="'Liberation Serif', serif" font-size="12.2" font-weight="normal" text-anchor="start" textLength="31" lengthAdjust="spacingAndGlyphs">TNF&#945;</text>
<line x1="67.4" y1="158.8" x2="246" y2="158.5" stroke="#000" stroke-width="1.5" />
<polygon points="251.8,158.5 244.6,155 244.6,162" fill="#000"/>
<text x="0.2" y="182.6" font-family="'Liberation Sans', sans-serif" font-size="16.5" font-weight="bold" text-anchor="start" >B</text>
<ellipse cx="11.4" cy="190.3" rx="4" ry="2.4" fill="#000"/>
<line x1="12" y1="190.2" x2="101" y2="189.6" stroke="#000" stroke-width="1.6" />
<line x1="162.5" y1="189.4" x2="249" y2="189.1" stroke="#000" stroke-width="1.6" />
<ellipse cx="249" cy="189.1" rx="4" ry="2.5" fill="#000"/>
<text x="132.4" y="195.2" font-family="'Liberation Sans', sans-serif" font-size="14.5" font-weight="normal" text-anchor="middle" >Immune</text>
<text x="59" y="207.4" font-family="'Liberation Serif', serif" font-size="11.8" font-weight="normal" text-anchor="middle" textLength="14.8" lengthAdjust="spacingAndGlyphs" stroke="#000" stroke-width="0.3">1 h</text>
<text x="110.4" y="207.4" font-family="'Liberation Serif', serif" font-size="11.8" font-weight="normal" text-anchor="middle" textLength="15.8" lengthAdjust="spacingAndGlyphs" stroke="#000" stroke-width="0.3">3 h</text>
<text x="164" y="207.4" font-family="'Liberation Serif', serif" font-size="11.8" font-weight="normal" text-anchor="middle" textLength="15.8" lengthAdjust="spacingAndGlyphs" stroke="#000" stroke-width="0.3">8 h</text>
<text x="224.2" y="207.4" font-family="'Liberation Serif', serif" font-size="11.8" font-weight="normal" text-anchor="middle" textLength="54.1" lengthAdjust="spacingAndGlyphs" stroke="#000" stroke-width="0.3">8/8 h BFA</text>
<line x1="7.1" y1="217" x2="7.1" y2="286.5" stroke="#000" stroke-width="1.3" />
<polygon points="7.1,210.8 3.5,218.2 10.8,218.2" fill="#000"/>
<text transform="translate(24.6,230) rotate(-90)" x="0" y="0" font-family="'Liberation Serif', serif" font-size="11.4" font-weight="normal" text-anchor="middle" stroke="#000" stroke-width="0.25">Peptide</text>
<text transform="translate(24.6,287.8) rotate(-90)" x="0" y="0" font-family="'Liberation Serif', serif" font-size="11.5" font-weight="normal" text-anchor="middle" stroke="#000" stroke-width="0.25">IL-12,IL-18</text>
<text transform="translate(12.9,300.7) rotate(-90)" x="0" y="0" font-family="'Liberation Serif', serif" font-size="12.3" font-weight="normal" text-anchor="middle" stroke="#000" stroke-width="0.25">IFN&#947;</text>
<text x="36.2" y="330.6" font-family="'Liberation Serif', serif" font-size="12.2" font-weight="normal" text-anchor="start" textLength="31.3" lengthAdjust="spacingAndGlyphs">TNF&#945;</text>
<line x1="68.7" y1="325.6" x2="243" y2="325.0" stroke="#000" stroke-width="1.5" />
<polygon points="249.2,325 242,321.5 242,328.3" fill="#000"/>
<text x="303.3" y="13.6" font-family="'Liberation Sans', sans-serif" font-size="16.5" font-weight="bold" text-anchor="start" >C</text>
<g transform="rotate(-0.33 335.7 145.0)">
<line x1="424.8" y1="27.9" x2="513.4" y2="27.9" stroke="#383838" stroke-width="1.25" />
<line x1="333.5" y1="27.9" x2="335.7" y2="27.9" stroke="#000" stroke-width="1.0" />
<text x="331.6" y="30.7" font-family="'Liberation Sans', sans-serif" font-size="7.5" font-weight="bold" text-anchor="end" >45</text>
<line x1="424.8" y1="40.7" x2="513.4" y2="40.7" stroke="#383838" stroke-width="1.25" />
<line x1="333.5" y1="40.7" x2="335.7" y2="40.7" stroke="#000" stroke-width="1.0" />
<text x="331.6" y="43.5" font-family="'Liberation Sans', sans-serif" font-size="7.5" font-weight="bold" text-anchor="end" >40</text>
<line x1="335.7" y1="53.3" x2="513.4" y2="53.3" stroke="#383838" stroke-width="1.25" />
<line x1="333.5" y1="53.3" x2="335.7" y2="53.3" stroke="#000" stroke-width="1.0" />
<text x="331.6" y="56.099999999999994" font-family="'Liberation Sans', sans-serif" font-size="7.5" font-weight="bold" text-anchor="end" >35</text>
<line x1="335.7" y1="66.4" x2="513.4" y2="66.4" stroke="#383838" stroke-width="1.25" />
<line x1="333.5" y1="66.4" x2="335.7" y2="66.4" stroke="#000" stroke-width="1.0" />
<text x="331.6" y="69.2" font-family="'Liberation Sans', sans-serif" font-size="7.5" font-weight="bold" text-anchor="end" >30</text>
<line x1="335.7" y1="79.6" x2="513.4" y2="79.6" stroke="#383838" stroke-width="1.25" />
<line x1="333.5" y1="79.6" x2="335.7" y2="79.6" stroke="#000" stroke-width="1.0" />
<text x="331.6" y="82.39999999999999" font-family="'Liberation Sans', sans-serif" font-size="7.5" font-weight="bold" text-anchor="end" >25</text>
<line x1="335.7" y1="92.9" x2="513.4" y2="92.9" stroke="#383838" stroke-width="1.25" />
<line x1="333.5" y1="92.9" x2="335.7" y2="92.9" stroke="#000" stroke-width="1.0" />
<text x="331.6" y="95.7" font-family="'Liberation Sans', sans-serif" font-size="7.5" font-weight="bold" text-anchor="end" >20</text>
<line x1="335.7" y1="105.9" x2="513.4" y2="105.9" stroke="#383838" stroke-width="1.25" />
<line x1="333.5" y1="105.9" x2="335.7" y2="105.9" stroke="#000" stroke-width="1.0" />
<text x="331.6" y="108.7" font-family="'Liberation Sans', sans-serif" font-size="7.5" font-weight="bold" text-anchor="end" >15</text>
<line x1="335.7" y1="118.8" x2="513.4" y2="118.8" stroke="#383838" stroke-width="1.25" />
<line x1="333.5" y1="118.8" x2="335.7" y2="118.8" stroke="#000" stroke-width="1.0" />
<text x="331.6" y="121.6" font-family="'Liberation Sans', sans-serif" font-size="7.5" font-weight="bold" text-anchor="end" >10</text>
<line x1="335.7" y1="132.0" x2="513.4" y2="132.0" stroke="#383838" stroke-width="1.25" />
<line x1="333.5" y1="132.0" x2="335.7" y2="132.0" stroke="#000" stroke-width="1.0" />
<text x="331.6" y="134.8" font-family="'Liberation Sans', sans-serif" font-size="7.5" font-weight="bold" text-anchor="end" >5</text>
<line x1="333.5" y1="145.0" x2="335.7" y2="145.0" stroke="#000" stroke-width="1.0" />
<text x="331.6" y="147.8" font-family="'Liberation Sans', sans-serif" font-size="7.5" font-weight="bold" text-anchor="end" >0</text>
<rect x="336.4" y="19.7" width="88.4" height="33.60" fill="#fff" stroke="#111" stroke-width="1.1"/>
<path d="M335.7 19.7H513.4V145.0" fill="none" stroke="#111" stroke-width="1.3"/>
<path d="M335.7 19.2V145.0H513.4" fill="none" stroke="#000" stroke-width="1.5"/>
<text x="335.9" y="157.3" font-family="'Liberation Sans', sans-serif" font-size="7.5" font-weight="bold" text-anchor="middle" >0</text>
<text x="365.5" y="157.3" font-family="'Liberation Sans', sans-serif" font-size="7.5" font-weight="bold" text-anchor="middle" >2</text>
<text x="395.09999999999997" y="157.3" font-family="'Liberation Sans', sans-serif" font-size="7.5" font-weight="bold" text-anchor="middle" >4</text>
<text x="424.7" y="157.3" font-family="'Liberation Sans', sans-serif" font-size="7.5" font-weight="bold" text-anchor="middle" >6</text>
<text x="454.29999999999995" y="157.3" font-family="'Liberation Sans', sans-serif" font-size="7.5" font-weight="bold" text-anchor="middle" >8</text>
<text x="483.9" y="157.3" font-family="'Liberation Sans', sans-serif" font-size="7.5" font-weight="bold" text-anchor="middle" >10</text>
<text x="513.5" y="157.3" font-family="'Liberation Sans', sans-serif" font-size="7.5" font-weight="bold" text-anchor="middle" >12</text>
<line x1="335.9" y1="145.0" x2="335.9" y2="146.8" stroke="#000" stroke-width="0.9" />
<line x1="350.7" y1="145.0" x2="350.7" y2="146.8" stroke="#000" stroke-width="0.9" />
<line x1="365.5" y1="145.0" x2="365.5" y2="146.8" stroke="#000" stroke-width="0.9" />
<line x1="380.29999999999995" y1="145.0" x2="380.29999999999995" y2="146.8" stroke="#000" stroke-width="0.9" />
<line x1="395.09999999999997" y1="145.0" x2="395.09999999999997" y2="146.8" stroke="#000" stroke-width="0.9" />
<line x1="409.9" y1="145.0" x2="409.9" y2="146.8" stroke="#000" stroke-width="0.9" />
<line x1="424.7" y1="145.0" x2="424.7" y2="146.8" stroke="#000" stroke-width="0.9" />
<line x1="439.5" y1="145.0" x2="439.5" y2="146.8" stroke="#000" stroke-width="0.9" />
<line x1="454.29999999999995" y1="145.0" x2="454.29999999999995" y2="146.8" stroke="#000" stroke-width="0.9" />
<line x1="469.1" y1="145.0" x2="469.1" y2="146.8" stroke="#000" stroke-width="0.9" />
<line x1="483.9" y1="145.0" x2="483.9" y2="146.8" stroke="#000" stroke-width="0.9" />
<line x1="498.7" y1="145.0" x2="498.7" y2="146.8" stroke="#000" stroke-width="0.9" />
<line x1="513.5" y1="145.0" x2="513.5" y2="146.8" stroke="#000" stroke-width="0.9" />
<text x="427.7" y="166.3" font-family="'Liberation Serif', serif" font-size="11.4" font-weight="bold" text-anchor="middle" >Time (h)</text>
<path d="M350.70 69.83V129.10M349.10 69.83h3.20M349.10 129.10h3.20" stroke="#222" stroke-width="0.9" fill="none"/>
<path d="M365.50 87.85V116.48M363.90 87.85h3.20M363.90 116.48h3.20" stroke="#222" stroke-width="0.9" fill="none"/>
<path d="M380.30 106.93V120.38M378.70 106.93h3.20M378.70 120.38h3.20" stroke="#222" stroke-width="0.9" fill="none"/>
<path d="M395.10 114.93V132.00M393.50 114.93h3.20M393.50 132.00h3.20" stroke="#222" stroke-width="0.9" fill="none"/>
<path d="M424.70 118.80V136.94M423.10 118.80h3.20M423.10 136.94h3.20" stroke="#222" stroke-width="0.9" fill="none"/>
<path d="M454.30 122.23V137.98M452.70 122.23h3.20M452.70 137.98h3.20" stroke="#222" stroke-width="0.9" fill="none"/>
<path d="M350.70 73.00V118.80M349.30 73.00h2.80M349.30 118.80h2.80" stroke="#555" stroke-width="0.7" fill="none"/>
<path d="M454.30 33.02V51.54M452.70 33.02h3.20M452.70 51.54h3.20" stroke="#222" stroke-width="0.9" fill="none"/>
<polyline points="335.90,145.00 350.70,98.36 365.50,101.48 380.30,110.29 395.10,117.25 424.70,124.87 454.30,127.78" fill="none" stroke="#000" stroke-width="1.1" stroke-linejoin="round"/>
<polyline points="335.90,145.00 350.70,97.32 365.50,103.82 380.30,117.25 395.10,127.78 424.70,129.89 454.30,130.42" fill="none" stroke="#000" stroke-width="1.1" stroke-linejoin="round"/>
<polyline points="335.90,145.00 350.70,145.00 365.50,145.00 380.30,145.00 395.10,145.00 424.70,144.48 454.30,142.92" fill="none" stroke="#000" stroke-width="1.6" stroke-linejoin="round"/>
<rect x="333.60" y="142.70" width="4.60" height="4.60" fill="#000" stroke="#000" stroke-width="1.0"/>
<rect x="348.40" y="142.70" width="4.60" height="4.60" fill="#000" stroke="#000" stroke-width="1.0"/>
<rect x="363.20" y="142.70" width="4.60" height="4.60" fill="#000" stroke="#000" stroke-width="1.0"/>
<rect x="378.00" y="142.70" width="4.60" height="4.60" fill="#000" stroke="#000" stroke-width="1.0"/>
<rect x="392.80" y="142.70" width="4.60" height="4.60" fill="#000" stroke="#000" stroke-width="1.0"/>
<rect x="422.40" y="142.18" width="4.60" height="4.60" fill="#000" stroke="#000" stroke-width="1.0"/>
<rect x="452.00" y="140.62" width="4.60" height="4.60" fill="#000" stroke="#000" stroke-width="1.0"/>
<polygon points="350.70,94.30 348.20,99.26 353.20,99.26" fill="#000" stroke="#000" stroke-width="1.0"/>
<polygon points="365.50,100.80 363.00,105.76 368.00,105.76" fill="#000" stroke="#000" stroke-width="1.0"/>
<polygon points="380.30,114.23 377.80,119.19 382.80,119.19" fill="#000" stroke="#000" stroke-width="1.0"/>
<polygon points="395.10,124.76 392.60,129.71 397.60,129.71" fill="#000" stroke="#000" stroke-width="1.0"/>
<polygon points="424.70,126.87 422.20,131.82 427.20,131.82" fill="#000" stroke="#000" stroke-width="1.0"/>
<polygon points="454.30,127.40 451.80,132.35 456.80,132.35" fill="#000" stroke="#000" stroke-width="1.0"/>
<circle cx="350.70" cy="98.36" r="2.3" fill="#000" stroke="#000" stroke-width="1.0"/>
<circle cx="365.50" cy="101.48" r="2.3" fill="#000" stroke="#000" stroke-width="1.0"/>
<circle cx="380.30" cy="110.29" r="2.3" fill="#000" stroke="#000" stroke-width="1.0"/>
<circle cx="395.10" cy="117.25" r="2.3" fill="#000" stroke="#000" stroke-width="1.0"/>
<circle cx="424.70" cy="124.87" r="2.3" fill="#000" stroke="#000" stroke-width="1.0"/>
<circle cx="454.30" cy="127.78" r="2.3" fill="#000" stroke="#000" stroke-width="1.0"/>
<polygon points="454.30,39.97 456.70,42.97 454.30,45.97 451.90,42.97" fill="#000" stroke="#000" stroke-width="1.0"/>
<line x1="346.1" y1="24.4" x2="357.2" y2="24.4" stroke="#000" stroke-width="1.2" />
<circle cx="351.90" cy="24.40" r="1.8" fill="#000" stroke="#000" stroke-width="1.0"/>
<text x="359.3" y="26.7" font-family="'Liberation Sans', sans-serif" font-size="6.5" font-weight="normal" text-anchor="start" stroke="#000" stroke-width="0.22">Peptide</text>
<line x1="346.1" y1="32.4" x2="357.2" y2="32.4" stroke="#000" stroke-width="1.2" />
<rect x="350.10" y="30.60" width="3.60" height="3.60" fill="#000" stroke="#000" stroke-width="1.0"/>
<text x="359.3" y="34.699999999999996" font-family="'Liberation Sans', sans-serif" font-size="6.5" font-weight="normal" text-anchor="start" stroke="#000" stroke-width="0.22">IL-12,IL-18</text>
<line x1="346.1" y1="40.6" x2="357.2" y2="40.6" stroke="#000" stroke-width="1.2" />
<polygon points="351.90,38.02 349.80,42.18 354.00,42.18" fill="#000" stroke="#000" stroke-width="1.0"/>
<text x="359.3" y="42.9" font-family="'Liberation Sans', sans-serif" font-size="6.5" font-weight="normal" text-anchor="start" stroke="#000" stroke-width="0.22">Peptide + IL-12,IL-18</text>
<line x1="346.1" y1="48.4" x2="357.2" y2="48.4" stroke="#000" stroke-width="1.2" />
<polygon points="351.90,46.00 353.70,48.40 351.90,50.80 350.10,48.40" fill="#000" stroke="#000" stroke-width="1.0"/>
<text x="359.3" y="50.699999999999996" font-family="'Liberation Sans', sans-serif" font-size="6.5" font-weight="normal" text-anchor="start" stroke="#000" stroke-width="0.22">Peptide 8/8 BFA</text>
</g>
<text transform="translate(316.9,86.6) rotate(-90)" x="0" y="0" font-family="'Liberation Serif', serif" font-size="12.0" font-weight="normal" text-anchor="middle" stroke="#000" stroke-width="0.25">% TNF&#945;<tspan baseline-shift="super" font-size="7.5">+</tspan> CD8<tspan baseline-shift="super" font-size="7.5">+</tspan> T cells</text>
<text x="303.5" y="182.9" font-family="'Liberation Sans', sans-serif" font-size="16.5" font-weight="bold" text-anchor="start" >D</text>
<g transform="rotate(-0.42 335.5 312.6)">
<line x1="426.8" y1="197.2" x2="513.3" y2="197.2" stroke="#383838" stroke-width="1.25" />
<line x1="333.3" y1="197.2" x2="335.5" y2="197.2" stroke="#000" stroke-width="1.0" />
<text x="331.6" y="200.0" font-family="'Liberation Sans', sans-serif" font-size="7.5" font-weight="bold" text-anchor="end" >45</text>
<line x1="426.8" y1="210.0" x2="513.3" y2="210.0" stroke="#383838" stroke-width="1.25" />
<line x1="333.3" y1="210.0" x2="335.5" y2="210.0" stroke="#000" stroke-width="1.0" />
<text x="331.6" y="212.8" font-family="'Liberation Sans', sans-serif" font-size="7.5" font-weight="bold" text-anchor="end" >40</text>
<line x1="335.5" y1="222.7" x2="513.3" y2="222.7" stroke="#383838" stroke-width="1.25" />
<line x1="333.3" y1="222.7" x2="335.5" y2="222.7" stroke="#000" stroke-width="1.0" />
<text x="331.6" y="225.5" font-family="'Liberation Sans', sans-serif" font-size="7.5" font-weight="bold" text-anchor="end" >35</text>
<line x1="335.5" y1="235.6" x2="513.3" y2="235.6" stroke="#383838" stroke-width="1.25" />
<line x1="333.3" y1="235.6" x2="335.5" y2="235.6" stroke="#000" stroke-width="1.0" />
<text x="331.6" y="238.4" font-family="'Liberation Sans', sans-serif" font-size="7.5" font-weight="bold" text-anchor="end" >30</text>
<line x1="335.5" y1="248.5" x2="513.3" y2="248.5" stroke="#383838" stroke-width="1.25" />
<line x1="333.3" y1="248.5" x2="335.5" y2="248.5" stroke="#000" stroke-width="1.0" />
<text x="331.6" y="251.3" font-family="'Liberation Sans', sans-serif" font-size="7.5" font-weight="bold" text-anchor="end" >25</text>
<line x1="335.5" y1="261.2" x2="513.3" y2="261.2" stroke="#383838" stroke-width="1.25" />
<line x1="333.3" y1="261.2" x2="335.5" y2="261.2" stroke="#000" stroke-width="1.0" />
<text x="331.6" y="264.0" font-family="'Liberation Sans', sans-serif" font-size="7.5" font-weight="bold" text-anchor="end" >20</text>
<line x1="335.5" y1="274.1" x2="513.3" y2="274.1" stroke="#383838" stroke-width="1.25" />
<line x1="333.3" y1="274.1" x2="335.5" y2="274.1" stroke="#000" stroke-width="1.0" />
<text x="331.6" y="276.90000000000003" font-family="'Liberation Sans', sans-serif" font-size="7.5" font-weight="bold" text-anchor="end" >15</text>
<line x1="335.5" y1="286.9" x2="513.3" y2="286.9" stroke="#383838" stroke-width="1.25" />
<line x1="333.3" y1="286.9" x2="335.5" y2="286.9" stroke="#000" stroke-width="1.0" />
<text x="331.6" y="289.7" font-family="'Liberation Sans', sans-serif" font-size="7.5" font-weight="bold" text-anchor="end" >10</text>
<line x1="335.5" y1="299.8" x2="513.3" y2="299.8" stroke="#383838" stroke-width="1.25" />
<line x1="333.3" y1="299.8" x2="335.5" y2="299.8" stroke="#000" stroke-width="1.0" />
<text x="331.6" y="302.6" font-family="'Liberation Sans', sans-serif" font-size="7.5" font-weight="bold" text-anchor="end" >5</text>
<line x1="333.3" y1="312.6" x2="335.5" y2="312.6" stroke="#000" stroke-width="1.0" />
<text x="331.6" y="315.40000000000003" font-family="'Liberation Sans', sans-serif" font-size="7.5" font-weight="bold" text-anchor="end" >0</text>
<rect x="336.2" y="188.7" width="90.6" height="34.00" fill="#fff" stroke="#111" stroke-width="1.1"/>
<path d="M335.5 188.7H513.3V312.6" fill="none" stroke="#111" stroke-width="1.3"/>
<path d="M335.5 188.2V312.6H513.3" fill="none" stroke="#000" stroke-width="1.5"/>
<text x="335.9" y="325.3" font-family="'Liberation Sans', sans-serif" font-size="7.5" font-weight="bold" text-anchor="middle" >0</text>
<text x="365.5" y="325.3" font-family="'Liberation Sans', sans-serif" font-size="7.5" font-weight="bold" text-anchor="middle" >2</text>
<text x="395.09999999999997" y="325.3" font-family="'Liberation Sans', sans-serif" font-size="7.5" font-weight="bold" text-anchor="middle" >4</text>
<text x="424.7" y="325.3" font-family="'Liberation Sans', sans-serif" font-size="7.5" font-weight="bold" text-anchor="middle" >6</text>
<text x="454.29999999999995" y="325.3" font-family="'Liberation Sans', sans-serif" font-size="7.5" font-weight="bold" text-anchor="middle" >8</text>
<text x="483.9" y="325.3" font-family="'Liberation Sans', sans-serif" font-size="7.5" font-weight="bold" text-anchor="middle" >10</text>
<text x="513.5" y="325.3" font-family="'Liberation Sans', sans-serif" font-size="7.5" font-weight="bold" text-anchor="middle" >12</text>
<line x1="335.9" y1="312.6" x2="335.9" y2="314.40000000000003" stroke="#000" stroke-width="0.9" />
<line x1="350.7" y1="312.6" x2="350.7" y2="314.40000000000003" stroke="#000" stroke-width="0.9" />
<line x1="365.5" y1="312.6" x2="365.5" y2="314.40000000000003" stroke="#000" stroke-width="0.9" />
<line x1="380.29999999999995" y1="312.6" x2="380.29999999999995" y2="314.40000000000003" stroke="#000" stroke-width="0.9" />
<line x1="395.09999999999997" y1="312.6" x2="395.09999999999997" y2="314.40000000000003" stroke="#000" stroke-width="0.9" />
<line x1="409.9" y1="312.6" x2="409.9" y2="314.40000000000003" stroke="#000" stroke-width="0.9" />
<line x1="424.7" y1="312.6" x2="424.7" y2="314.40000000000003" stroke="#000" stroke-width="0.9" />
<line x1="439.5" y1="312.6" x2="439.5" y2="314.40000000000003" stroke="#000" stroke-width="0.9" />
<line x1="454.29999999999995" y1="312.6" x2="454.29999999999995" y2="314.40000000000003" stroke="#000" stroke-width="0.9" />
<line x1="469.1" y1="312.6" x2="469.1" y2="314.40000000000003" stroke="#000" stroke-width="0.9" />
<line x1="483.9" y1="312.6" x2="483.9" y2="314.40000000000003" stroke="#000" stroke-width="0.9" />
<line x1="498.7" y1="312.6" x2="498.7" y2="314.40000000000003" stroke="#000" stroke-width="0.9" />
<line x1="513.5" y1="312.6" x2="513.5" y2="314.40000000000003" stroke="#000" stroke-width="0.9" />
<text x="425.3" y="336.0" font-family="'Liberation Serif', serif" font-size="11.4" font-weight="bold" text-anchor="middle" >Time (h)</text>
<path d="M350.70 245.92V273.07M349.10 245.92h3.20M349.10 273.07h3.20" stroke="#222" stroke-width="0.9" fill="none"/>
<path d="M365.50 227.86V262.75M363.90 227.86h3.20M363.90 262.75h3.20" stroke="#222" stroke-width="0.9" fill="none"/>
<path d="M380.30 234.57V268.17M378.70 234.57h3.20M378.70 268.17h3.20" stroke="#222" stroke-width="0.9" fill="none"/>
<path d="M395.10 242.31V283.57M393.50 242.31h3.20M393.50 283.57h3.20" stroke="#222" stroke-width="0.9" fill="none"/>
<path d="M424.70 266.62V299.03M423.10 266.62h3.20M423.10 299.03h3.20" stroke="#222" stroke-width="0.9" fill="none"/>
<path d="M454.30 277.68V300.06M452.70 277.68h3.20M452.70 300.06h3.20" stroke="#222" stroke-width="0.9" fill="none"/>
<path d="M454.30 212.54V242.82M452.70 212.54h3.20M452.70 242.82h3.20" stroke="#222" stroke-width="0.9" fill="none"/>
<path d="M350.70 248.50V266.36M349.40 248.50h2.60M349.40 266.36h2.60" stroke="#333" stroke-width="0.8" fill="none"/>
<path d="M365.50 238.18V257.39M364.20 238.18h2.60M364.20 257.39h2.60" stroke="#333" stroke-width="0.8" fill="none"/>
<path d="M395.10 249.77V276.66M393.80 249.77h2.60M393.80 276.66h2.60" stroke="#333" stroke-width="0.8" fill="none"/>
<path d="M424.70 284.34V297.22M423.40 284.34h2.60M423.40 297.22h2.60" stroke="#333" stroke-width="0.8" fill="none"/>
<path d="M454.30 289.48V302.36M453.00 289.48h2.60M453.00 302.36h2.60" stroke="#333" stroke-width="0.8" fill="none"/>
<polyline points="335.90,312.60 350.70,260.69 365.50,245.15 380.30,252.06 395.10,259.68 424.70,278.71 454.30,284.85" fill="none" stroke="#000" stroke-width="1.1" stroke-linejoin="round"/>
<polyline points="335.90,312.60 350.70,259.17 365.50,242.57 380.30,250.79 395.10,266.36 424.70,290.77 454.30,295.16" fill="none" stroke="#000" stroke-width="1.1" stroke-linejoin="round"/>
<polyline points="335.90,312.60 350.70,312.60 365.50,312.60 380.30,312.60 395.10,312.60 424.70,310.55 454.30,309.02" fill="none" stroke="#000" stroke-width="1.6" stroke-linejoin="round"/>
<rect x="333.60" y="310.30" width="4.60" height="4.60" fill="#fff" stroke="#000" stroke-width="1.0"/>
<rect x="348.40" y="310.30" width="4.60" height="4.60" fill="#fff" stroke="#000" stroke-width="1.0"/>
<rect x="363.20" y="310.30" width="4.60" height="4.60" fill="#fff" stroke="#000" stroke-width="1.0"/>
<rect x="378.00" y="310.30" width="4.60" height="4.60" fill="#fff" stroke="#000" stroke-width="1.0"/>
<rect x="392.80" y="310.30" width="4.60" height="4.60" fill="#fff" stroke="#000" stroke-width="1.0"/>
<rect x="422.40" y="308.25" width="4.60" height="4.60" fill="#fff" stroke="#000" stroke-width="1.0"/>
<rect x="452.00" y="306.72" width="4.60" height="4.60" fill="#fff" stroke="#000" stroke-width="1.0"/>
<polygon points="335.90,309.36 333.20,314.71 338.60,314.71" fill="#fff" stroke="#000" stroke-width="1.0"/>
<polygon points="350.70,255.93 348.00,261.28 353.40,261.28" fill="#fff" stroke="#000" stroke-width="1.0"/>
<polygon points="365.50,239.33 362.80,244.68 368.20,244.68" fill="#fff" stroke="#000" stroke-width="1.0"/>
<polygon points="380.30,247.55 377.60,252.90 383.00,252.90" fill="#fff" stroke="#000" stroke-width="1.0"/>
<polygon points="395.10,263.12 392.40,268.47 397.80,268.47" fill="#fff" stroke="#000" stroke-width="1.0"/>
<polygon points="424.70,287.53 422.00,292.88 427.40,292.88" fill="#fff" stroke="#000" stroke-width="1.0"/>
<polygon points="454.30,291.92 451.60,297.27 457.00,297.27" fill="#fff" stroke="#000" stroke-width="1.0"/>
<circle cx="335.90" cy="312.60" r="2.5" fill="#fff" stroke="#000" stroke-width="1.0"/>
<circle cx="350.70" cy="260.69" r="2.5" fill="#fff" stroke="#000" stroke-width="1.0"/>
<circle cx="365.50" cy="245.15" r="2.5" fill="#fff" stroke="#000" stroke-width="1.0"/>
<circle cx="380.30" cy="252.06" r="2.5" fill="#fff" stroke="#000" stroke-width="1.0"/>
<circle cx="395.10" cy="259.68" r="2.5" fill="#fff" stroke="#000" stroke-width="1.0"/>
<circle cx="424.70" cy="278.71" r="2.5" fill="#fff" stroke="#000" stroke-width="1.0"/>
<circle cx="454.30" cy="284.85" r="2.5" fill="#fff" stroke="#000" stroke-width="1.0"/>
<polygon points="454.30,224.14 456.90,227.34 454.30,230.54 451.70,227.34" fill="#fff" stroke="#000" stroke-width="1.0"/>
<line x1="346.3" y1="194.0" x2="357.3" y2="194.0" stroke="#000" stroke-width="1.2" />
<circle cx="351.80" cy="194.00" r="1.8" fill="#fff" stroke="#000" stroke-width="1.0"/>
<text x="359.8" y="196.3" font-family="'Liberation Sans', sans-serif" font-size="6.5" font-weight="normal" text-anchor="start" stroke="#000" stroke-width="0.22">Peptide</text>
<line x1="346.3" y1="202.0" x2="357.3" y2="202.0" stroke="#000" stroke-width="1.2" />
<rect x="350.00" y="200.20" width="3.60" height="3.60" fill="#fff" stroke="#000" stroke-width="1.0"/>
<text x="359.8" y="204.3" font-family="'Liberation Sans', sans-serif" font-size="6.5" font-weight="normal" text-anchor="start" stroke="#000" stroke-width="0.22">IL-12,IL-18</text>
<line x1="346.3" y1="210.2" x2="357.3" y2="210.2" stroke="#000" stroke-width="1.2" />
<polygon points="351.80,207.62 349.70,211.78 353.90,211.78" fill="#fff" stroke="#000" stroke-width="1.0"/>
<text x="359.8" y="212.5" font-family="'Liberation Sans', sans-serif" font-size="6.5" font-weight="normal" text-anchor="start" stroke="#000" stroke-width="0.22">Peptide + IL-12,IL-18</text>
<line x1="346.3" y1="218.3" x2="357.3" y2="218.3" stroke="#000" stroke-width="1.2" />
<polygon points="351.80,215.90 353.60,218.30 351.80,220.70 350.00,218.30" fill="#fff" stroke="#000" stroke-width="1.0"/>
<text x="359.8" y="220.60000000000002" font-family="'Liberation Sans', sans-serif" font-size="6.5" font-weight="normal" text-anchor="start" stroke="#000" stroke-width="0.22">Peptide 8/8 BFA</text>
</g>
<text transform="translate(317.8,251.3) rotate(-90)" x="0" y="0" font-family="'Liberation Serif', serif" font-size="11.9" font-weight="normal" text-anchor="middle" stroke="#000" stroke-width="0.25">% TNF&#945;<tspan baseline-shift="super" font-size="7.5">+</tspan> CD8<tspan baseline-shift="super" font-size="7.5">+</tspan> T cells</text>
<text x="303.6" y="338.6" font-family="'Liberation Sans', sans-serif" font-size="16.5" font-weight="bold" text-anchor="start" >E</text>
<g transform="rotate(-0.33 344.3 473.2)">
<line x1="344.3" y1="456.64" x2="512.6" y2="456.64" stroke="#383838" stroke-width="1.25" />
<line x1="341.8" y1="456.64" x2="344.3" y2="456.64" stroke="#000" stroke-width="1.0" />
<text x="339.0" y="459.44" font-family="'Liberation Sans', sans-serif" font-size="7.5" font-weight="bold" text-anchor="end" >20</text>
<line x1="344.3" y1="440.08" x2="512.6" y2="440.08" stroke="#383838" stroke-width="1.25" />
<line x1="341.8" y1="440.08" x2="344.3" y2="440.08" stroke="#000" stroke-width="1.0" />
<text x="339.0" y="442.88" font-family="'Liberation Sans', sans-serif" font-size="7.5" font-weight="bold" text-anchor="end" >40</text>
<line x1="344.3" y1="423.52" x2="512.6" y2="423.52" stroke="#383838" stroke-width="1.25" />
<line x1="341.8" y1="423.52" x2="344.3" y2="423.52" stroke="#000" stroke-width="1.0" />
<text x="339.0" y="426.32" font-family="'Liberation Sans', sans-serif" font-size="7.5" font-weight="bold" text-anchor="end" >60</text>
<line x1="344.3" y1="406.96" x2="512.6" y2="406.96" stroke="#383838" stroke-width="1.25" />
<line x1="341.8" y1="406.96" x2="344.3" y2="406.96" stroke="#000" stroke-width="1.0" />
<text x="339.0" y="409.76" font-family="'Liberation Sans', sans-serif" font-size="7.5" font-weight="bold" text-anchor="end" >80</text>
<line x1="344.3" y1="390.4" x2="512.6" y2="390.4" stroke="#383838" stroke-width="1.25" />
<line x1="341.8" y1="390.4" x2="344.3" y2="390.4" stroke="#000" stroke-width="1.0" />
<text x="339.0" y="393.2" font-family="'Liberation Sans', sans-serif" font-size="7.5" font-weight="bold" text-anchor="end" >100</text>
<line x1="344.3" y1="373.84" x2="512.6" y2="373.84" stroke="#383838" stroke-width="1.25" />
<line x1="341.8" y1="373.84" x2="344.3" y2="373.84" stroke="#000" stroke-width="1.0" />
<text x="339.0" y="376.64" font-family="'Liberation Sans', sans-serif" font-size="7.5" font-weight="bold" text-anchor="end" >120</text>
<line x1="344.3" y1="357.28" x2="512.6" y2="357.28" stroke="#383838" stroke-width="1.25" />
<line x1="341.8" y1="357.28" x2="344.3" y2="357.28" stroke="#000" stroke-width="1.0" />
<text x="339.0" y="360.08" font-family="'Liberation Sans', sans-serif" font-size="7.5" font-weight="bold" text-anchor="end" >140</text>
<line x1="342.6" y1="464.92" x2="344.3" y2="464.92" stroke="#000" stroke-width="0.8" />
<line x1="342.6" y1="448.36" x2="344.3" y2="448.36" stroke="#000" stroke-width="0.8" />
<line x1="342.6" y1="431.8" x2="344.3" y2="431.8" stroke="#000" stroke-width="0.8" />
<line x1="342.6" y1="415.24" x2="344.3" y2="415.24" stroke="#000" stroke-width="0.8" />
<line x1="342.6" y1="398.68" x2="344.3" y2="398.68" stroke="#000" stroke-width="0.8" />
<line x1="342.6" y1="382.12" x2="344.3" y2="382.12" stroke="#000" stroke-width="0.8" />
<line x1="342.6" y1="365.56" x2="344.3" y2="365.56" stroke="#000" stroke-width="0.8" />
<text x="339.0" y="476.0" font-family="'Liberation Sans', sans-serif" font-size="7.5" font-weight="bold" text-anchor="end" >0</text>
<rect x="370.8" y="348.6" width="71.2" height="17.5" fill="#fff" stroke="#333" stroke-width="1.1"/>
<rect x="344.3" y="348.6" width="168.30" height="124.60" fill="none" stroke="#333" stroke-width="1.3"/>
<text x="344.3" y="487.2" font-family="'Liberation Sans', sans-serif" font-size="7.5" font-weight="bold" text-anchor="middle" >0</text>
<text x="372.44" y="487.2" font-family="'Liberation Sans', sans-serif" font-size="7.5" font-weight="bold" text-anchor="middle" >2</text>
<text x="400.58000000000004" y="487.2" font-family="'Liberation Sans', sans-serif" font-size="7.5" font-weight="bold" text-anchor="middle" >4</text>
<text x="428.72" y="487.2" font-family="'Liberation Sans', sans-serif" font-size="7.5" font-weight="bold" text-anchor="middle" >6</text>
<text x="456.86" y="487.2" font-family="'Liberation Sans', sans-serif" font-size="7.5" font-weight="bold" text-anchor="middle" >8</text>
<text x="485.0" y="487.2" font-family="'Liberation Sans', sans-serif" font-size="7.5" font-weight="bold" text-anchor="middle" >10</text>
<text x="513.14" y="487.2" font-family="'Liberation Sans', sans-serif" font-size="7.5" font-weight="bold" text-anchor="middle" >12</text>
<line x1="344.3" y1="473.2" x2="344.3" y2="475.0" stroke="#000" stroke-width="0.9" />
<line x1="358.37" y1="473.2" x2="358.37" y2="475.0" stroke="#000" stroke-width="0.9" />
<line x1="372.44" y1="473.2" x2="372.44" y2="475.0" stroke="#000" stroke-width="0.9" />
<line x1="386.51" y1="473.2" x2="386.51" y2="475.0" stroke="#000" stroke-width="0.9" />
<line x1="400.58000000000004" y1="473.2" x2="400.58000000000004" y2="475.0" stroke="#000" stroke-width="0.9" />
<line x1="414.65" y1="473.2" x2="414.65" y2="475.0" stroke="#000" stroke-width="0.9" />
<line x1="428.72" y1="473.2" x2="428.72" y2="475.0" stroke="#000" stroke-width="0.9" />
<line x1="442.79" y1="473.2" x2="442.79" y2="475.0" stroke="#000" stroke-width="0.9" />
<line x1="456.86" y1="473.2" x2="456.86" y2="475.0" stroke="#000" stroke-width="0.9" />
<line x1="470.93" y1="473.2" x2="470.93" y2="475.0" stroke="#000" stroke-width="0.9" />
<line x1="485.0" y1="473.2" x2="485.0" y2="475.0" stroke="#000" stroke-width="0.9" />
<line x1="499.07000000000005" y1="473.2" x2="499.07000000000005" y2="475.0" stroke="#000" stroke-width="0.9" />
<line x1="513.14" y1="473.2" x2="513.14" y2="475.0" stroke="#000" stroke-width="0.9" />
<text x="426.8" y="502.3" font-family="'Liberation Serif', serif" font-size="11.6" font-weight="bold" text-anchor="middle" >Time (h)</text>
<path d="M358.37 349.00V426.00M356.77 349.00h3.20M356.77 426.00h3.20" stroke="#222" stroke-width="0.9" fill="none"/>
<path d="M386.51 383.78V420.21M384.91 383.78h3.20M384.91 420.21h3.20" stroke="#222" stroke-width="0.9" fill="none"/>
<path d="M400.58 401.16V435.11M398.98 401.16h3.20M398.98 435.11h3.20" stroke="#222" stroke-width="0.9" fill="none"/>
<path d="M428.72 404.48V455.48M427.12 404.48h3.20M427.12 455.48h3.20" stroke="#222" stroke-width="0.9" fill="none"/>
<path d="M456.86 424.02V451.67M455.26 424.02h3.20M455.26 451.67h3.20" stroke="#222" stroke-width="0.9" fill="none"/>
<path d="M428.72 423.19V441.57M427.42 423.19h2.60M427.42 441.57h2.60" stroke="#333" stroke-width="0.8" fill="none"/>
<path d="M456.86 432.46V445.88M455.56 432.46h2.60M455.56 445.88h2.60" stroke="#333" stroke-width="0.8" fill="none"/>
<path d="M400.58 406.96V427.66M399.28 406.96h2.60M399.28 427.66h2.60" stroke="#333" stroke-width="0.8" fill="none"/>
<polyline points="344.30,473.20 358.37,386.67 372.44,390.40 386.51,401.41 400.58,417.56 428.72,429.32 456.86,438.18" fill="none" stroke="#000" stroke-width="1.4" stroke-linejoin="round"/>
<polyline points="344.30,473.20 358.37,408.62 372.44,390.40 386.51,398.27 400.58,409.69 428.72,432.30 456.86,439.25" fill="none" stroke="#000" stroke-width="1.4" stroke-linejoin="round"/>
<circle cx="358.37" cy="386.67" r="2.3" fill="#000" stroke="#000" stroke-width="1.0"/>
<circle cx="372.44" cy="390.40" r="2.3" fill="#000" stroke="#000" stroke-width="1.0"/>
<circle cx="386.51" cy="401.41" r="2.3" fill="#000" stroke="#000" stroke-width="1.0"/>
<circle cx="400.58" cy="417.56" r="2.3" fill="#000" stroke="#000" stroke-width="1.0"/>
<circle cx="428.72" cy="429.32" r="2.3" fill="#000" stroke="#000" stroke-width="1.0"/>
<circle cx="456.86" cy="438.18" r="2.3" fill="#000" stroke="#000" stroke-width="1.0"/>
<circle cx="344.30" cy="473.20" r="2.4" fill="#fff" stroke="#000" stroke-width="1.0"/>
<circle cx="358.37" cy="408.62" r="2.4" fill="#fff" stroke="#000" stroke-width="1.0"/>
<circle cx="372.44" cy="390.40" r="2.4" fill="#fff" stroke="#000" stroke-width="1.0"/>
<circle cx="386.51" cy="398.27" r="2.4" fill="#fff" stroke="#000" stroke-width="1.0"/>
<circle cx="400.58" cy="409.69" r="2.4" fill="#fff" stroke="#000" stroke-width="1.0"/>
<circle cx="428.72" cy="432.30" r="2.4" fill="#fff" stroke="#000" stroke-width="1.0"/>
<circle cx="456.86" cy="439.25" r="2.4" fill="#fff" stroke="#000" stroke-width="1.0"/>
<line x1="378" y1="352.5" x2="389.6" y2="352.5" stroke="#000" stroke-width="1.1" />
<circle cx="383.80" cy="352.50" r="1.6" fill="#000" stroke="#000" stroke-width="1.0"/>
<text x="392.6" y="354.5" font-family="'Liberation Sans', sans-serif" font-size="5.6" font-weight="normal" text-anchor="start" stroke="#000" stroke-width="0.22">Day 8 + Peptide</text>
<line x1="378" y1="361.3" x2="389.6" y2="361.3" stroke="#000" stroke-width="1.1" />
<circle cx="383.80" cy="361.30" r="1.6" fill="#fff" stroke="#000" stroke-width="1.0"/>
<text x="392.6" y="363.3" font-family="'Liberation Sans', sans-serif" font-size="5.6" font-weight="normal" text-anchor="start" stroke="#000" stroke-width="0.22">Immune + Peptide</text>
</g>
<text transform="translate(318.2,413.4) rotate(-90)" x="0" y="0" font-family="'Liberation Serif', serif" font-size="12.1" font-weight="normal" text-anchor="middle" stroke="#000" stroke-width="0.25">Maximum TNF&#945; response (%)</text>
</svg>
</body></html>
